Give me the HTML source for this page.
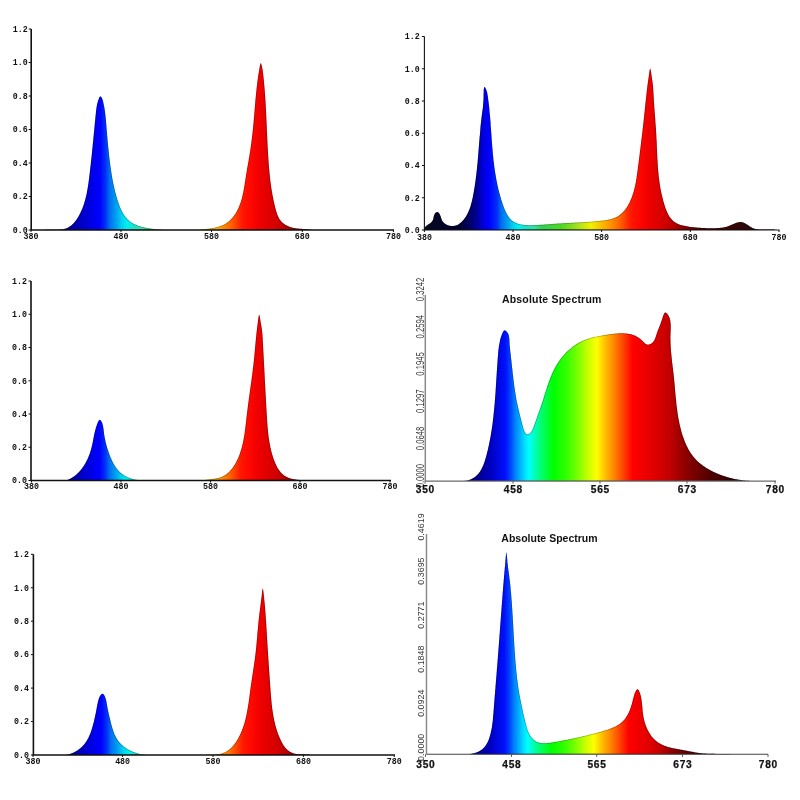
<!DOCTYPE html><html><head><meta charset="utf-8"><style>html,body{margin:0;padding:0;background:#fff;width:800px;height:800px;overflow:hidden}svg{display:block;will-change:transform;filter:blur(0.35px)}</style></head><body><svg width="800" height="800" viewBox="0 0 800 800"><defs><linearGradient id="g1" gradientUnits="userSpaceOnUse" x1="31.00" y1="0" x2="393.40" y2="0"><stop offset="0.0000" stop-color="#080828"/><stop offset="0.0625" stop-color="#000050"/><stop offset="0.1000" stop-color="#000090"/><stop offset="0.1425" stop-color="#0000c8"/><stop offset="0.1750" stop-color="#0000f0"/><stop offset="0.1900" stop-color="#0000ff"/><stop offset="0.2050" stop-color="#0030f8"/><stop offset="0.2175" stop-color="#0070f0"/><stop offset="0.2350" stop-color="#00a0f0"/><stop offset="0.2500" stop-color="#00d0f0"/><stop offset="0.2650" stop-color="#00f0f0"/><stop offset="0.2875" stop-color="#20e0c0"/><stop offset="0.3100" stop-color="#38e0a0"/><stop offset="0.3325" stop-color="#30d050"/><stop offset="0.3875" stop-color="#50d820"/><stop offset="0.4300" stop-color="#a0e020"/><stop offset="0.4700" stop-color="#f0f000"/><stop offset="0.5175" stop-color="#ffa000"/><stop offset="0.5525" stop-color="#ff6000"/><stop offset="0.5825" stop-color="#ff1800"/><stop offset="0.6050" stop-color="#ff0800"/><stop offset="0.6300" stop-color="#f00000"/><stop offset="0.6550" stop-color="#e00000"/><stop offset="0.6800" stop-color="#d00000"/><stop offset="0.7050" stop-color="#b40000"/><stop offset="0.7375" stop-color="#840000"/><stop offset="0.7750" stop-color="#560000"/><stop offset="0.9000" stop-color="#300808"/><stop offset="1.0000" stop-color="#200505"/></linearGradient><path id="p1" d="M45.00 230.00 L45.0 230.00 L45.4 229.91 L45.8 229.82 L46.2 229.74 L46.6 229.68 L47.0 229.65 L47.4 229.65 L47.8 229.65 L48.3 229.65 L48.7 229.65 L49.2 229.65 L49.6 229.65 L50.1 229.65 L50.6 229.65 L51.1 229.65 L51.6 229.65 L52.1 229.65 L52.6 229.65 L53.1 229.65 L53.6 229.65 L54.1 229.65 L54.6 229.65 L55.2 229.65 L55.7 229.65 L56.2 229.65 L56.7 229.65 L57.3 229.65 L57.8 229.65 L58.3 229.65 L58.8 229.64 L59.3 229.63 L59.8 229.61 L60.4 229.58 L60.9 229.54 L61.4 229.50 L61.9 229.44 L62.3 229.38 L62.8 229.30 L63.3 229.21 L63.8 229.11 L64.2 229.00 L64.7 228.87 L65.2 228.74 L65.6 228.59 L66.0 228.43 L66.5 228.27 L66.9 228.09 L67.3 227.90 L67.7 227.70 L68.1 227.49 L68.5 227.27 L68.9 227.04 L69.3 226.81 L69.7 226.56 L70.1 226.31 L70.4 226.04 L70.8 225.77 L71.2 225.49 L71.5 225.20 L71.8 224.91 L72.2 224.60 L72.5 224.29 L72.9 223.98 L73.2 223.65 L73.5 223.32 L73.8 222.99 L74.1 222.65 L74.4 222.30 L74.7 221.94 L75.0 221.58 L75.3 221.22 L75.6 220.85 L75.9 220.48 L76.2 220.10 L76.4 219.71 L76.7 219.33 L77.0 218.94 L77.2 218.54 L77.5 218.14 L77.7 217.74 L78.0 217.34 L78.2 216.93 L78.5 216.52 L78.7 216.11 L78.9 215.70 L79.1 215.28 L79.4 214.87 L79.6 214.45 L79.8 214.03 L80.0 213.61 L80.2 213.19 L80.4 212.76 L80.6 212.34 L80.8 211.91 L81.0 211.48 L81.2 211.05 L81.4 210.62 L81.6 210.19 L81.8 209.76 L82.0 209.33 L82.2 208.89 L82.3 208.46 L82.5 208.02 L82.7 207.58 L82.8 207.14 L83.0 206.70 L83.2 206.26 L83.3 205.82 L83.5 205.38 L83.6 204.93 L83.8 204.49 L83.9 204.04 L84.1 203.59 L84.2 203.15 L84.3 202.70 L84.5 202.25 L84.6 201.80 L84.7 201.35 L84.9 200.89 L85.0 200.44 L85.1 199.99 L85.3 199.53 L85.4 199.08 L85.5 198.62 L85.6 198.16 L85.7 197.71 L85.8 197.25 L85.9 196.79 L86.1 196.33 L86.2 195.87 L86.3 195.41 L86.4 194.95 L86.5 194.49 L86.6 194.02 L86.7 193.56 L86.8 193.10 L86.9 192.63 L86.9 192.17 L87.0 191.70 L87.1 191.24 L87.2 190.77 L87.3 190.31 L87.4 189.84 L87.5 189.37 L87.5 188.90 L87.6 188.44 L87.7 187.97 L87.8 187.50 L87.9 187.03 L87.9 186.56 L88.0 186.09 L88.1 185.62 L88.1 185.15 L88.2 184.68 L88.3 184.21 L88.4 183.74 L88.4 183.27 L88.5 182.80 L88.6 182.33 L88.6 181.86 L88.7 181.39 L88.7 180.92 L88.8 180.45 L88.9 179.98 L88.9 179.51 L89.0 179.03 L89.1 178.56 L89.1 178.09 L89.2 177.62 L89.2 177.15 L89.3 176.68 L89.3 176.21 L89.4 175.74 L89.5 175.27 L89.5 174.80 L89.6 174.33 L89.6 173.86 L89.7 173.39 L89.7 172.92 L89.8 172.45 L89.9 171.98 L89.9 171.51 L90.0 171.04 L90.0 170.57 L90.1 170.10 L90.1 169.64 L90.2 169.17 L90.2 168.70 L90.3 168.23 L90.3 167.76 L90.4 167.30 L90.4 166.83 L90.5 166.36 L90.6 165.89 L90.6 165.43 L90.7 164.96 L90.7 164.49 L90.8 164.02 L90.8 163.56 L90.9 163.09 L90.9 162.62 L91.0 162.16 L91.0 161.69 L91.1 161.22 L91.1 160.76 L91.2 160.29 L91.2 159.83 L91.3 159.36 L91.3 158.89 L91.4 158.43 L91.4 157.96 L91.5 157.50 L91.5 157.03 L91.6 156.56 L91.6 156.10 L91.7 155.63 L91.7 155.17 L91.8 154.70 L91.8 154.24 L91.9 153.77 L91.9 153.31 L92.0 152.84 L92.0 152.37 L92.1 151.91 L92.1 151.44 L92.1 150.98 L92.2 150.51 L92.2 150.05 L92.3 149.58 L92.3 149.12 L92.4 148.65 L92.4 148.19 L92.5 147.72 L92.5 147.26 L92.6 146.79 L92.6 146.33 L92.7 145.86 L92.7 145.39 L92.8 144.93 L92.8 144.46 L92.8 144.00 L92.9 143.53 L92.9 143.07 L93.0 142.60 L93.0 142.14 L93.1 141.67 L93.1 141.20 L93.2 140.74 L93.2 140.27 L93.3 139.81 L93.3 139.34 L93.4 138.87 L93.4 138.41 L93.4 137.94 L93.5 137.48 L93.5 137.01 L93.6 136.54 L93.6 136.08 L93.7 135.61 L93.7 135.14 L93.8 134.68 L93.8 134.21 L93.8 133.74 L93.9 133.27 L93.9 132.81 L94.0 132.34 L94.0 131.87 L94.1 131.40 L94.1 130.94 L94.2 130.47 L94.2 130.00 L94.3 129.53 L94.3 129.06 L94.3 128.60 L94.4 128.13 L94.4 127.66 L94.5 127.19 L94.5 126.72 L94.6 126.25 L94.6 125.78 L94.7 125.31 L94.7 124.84 L94.8 124.37 L94.8 123.90 L94.8 123.43 L94.9 122.96 L94.9 122.49 L95.0 122.02 L95.0 121.55 L95.1 121.08 L95.1 120.61 L95.2 120.14 L95.2 119.66 L95.3 119.19 L95.3 118.72 L95.3 118.25 L95.4 117.77 L95.4 117.30 L95.5 116.83 L95.5 116.35 L95.6 115.88 L95.6 115.41 L95.7 114.93 L95.7 114.46 L95.8 113.98 L95.8 113.51 L95.9 113.03 L95.9 112.56 L96.0 112.08 L96.0 111.61 L96.1 111.13 L96.1 110.66 L96.2 110.18 L96.2 109.71 L96.3 109.24 L96.4 108.76 L96.4 108.29 L96.5 107.82 L96.6 107.34 L96.6 106.87 L96.7 106.40 L96.8 105.93 L96.9 105.46 L97.0 104.99 L97.1 104.52 L97.2 104.05 L97.3 103.58 L97.4 103.12 L97.5 102.65 L97.7 102.19 L97.8 101.73 L97.9 101.26 L98.1 100.80 L98.2 100.34 L98.4 99.88 L98.6 99.43 L98.7 98.97 L98.9 98.52 L99.1 98.07 L99.3 97.63 L99.5 97.22 L99.7 96.87 L100.0 96.60 L100.2 96.43 L100.4 96.39 L100.7 96.46 L101.0 96.65 L101.2 96.92 L101.5 97.26 L101.7 97.65 L101.9 98.07 L102.1 98.50 L102.3 98.96 L102.5 99.43 L102.7 99.91 L102.8 100.40 L102.9 100.89 L103.1 101.39 L103.2 101.90 L103.3 102.40 L103.4 102.91 L103.5 103.41 L103.6 103.92 L103.7 104.41 L103.8 104.91 L103.9 105.41 L104.0 105.90 L104.1 106.39 L104.2 106.88 L104.3 107.37 L104.4 107.85 L104.5 108.34 L104.5 108.82 L104.6 109.30 L104.7 109.78 L104.8 110.26 L104.8 110.74 L104.9 111.21 L105.0 111.68 L105.0 112.16 L105.1 112.63 L105.1 113.10 L105.2 113.57 L105.3 114.04 L105.3 114.50 L105.4 114.97 L105.4 115.43 L105.5 115.90 L105.5 116.36 L105.6 116.82 L105.6 117.29 L105.7 117.75 L105.7 118.21 L105.8 118.67 L105.8 119.13 L105.8 119.59 L105.9 120.05 L105.9 120.51 L106.0 120.96 L106.0 121.42 L106.1 121.88 L106.1 122.34 L106.1 122.80 L106.2 123.26 L106.2 123.71 L106.2 124.17 L106.3 124.63 L106.3 125.09 L106.4 125.55 L106.4 126.01 L106.4 126.47 L106.5 126.93 L106.5 127.39 L106.5 127.85 L106.6 128.31 L106.6 128.77 L106.6 129.24 L106.7 129.70 L106.7 130.16 L106.8 130.63 L106.8 131.09 L106.8 131.56 L106.9 132.02 L106.9 132.49 L107.0 132.95 L107.0 133.42 L107.0 133.89 L107.1 134.35 L107.1 134.82 L107.1 135.29 L107.2 135.76 L107.2 136.22 L107.3 136.69 L107.3 137.16 L107.4 137.63 L107.4 138.10 L107.4 138.57 L107.5 139.04 L107.5 139.51 L107.6 139.98 L107.6 140.45 L107.6 140.92 L107.7 141.39 L107.7 141.86 L107.8 142.33 L107.8 142.80 L107.9 143.27 L107.9 143.74 L108.0 144.22 L108.0 144.69 L108.0 145.16 L108.1 145.63 L108.1 146.10 L108.2 146.58 L108.2 147.05 L108.3 147.52 L108.3 147.99 L108.4 148.47 L108.4 148.94 L108.5 149.41 L108.5 149.88 L108.6 150.36 L108.6 150.83 L108.7 151.30 L108.7 151.77 L108.8 152.25 L108.8 152.72 L108.9 153.19 L108.9 153.66 L109.0 154.13 L109.0 154.61 L109.1 155.08 L109.1 155.55 L109.2 156.02 L109.2 156.49 L109.3 156.97 L109.3 157.44 L109.4 157.91 L109.4 158.38 L109.5 158.85 L109.6 159.32 L109.6 159.79 L109.7 160.26 L109.7 160.73 L109.8 161.20 L109.8 161.67 L109.9 162.14 L110.0 162.61 L110.0 163.08 L110.1 163.55 L110.2 164.02 L110.2 164.49 L110.3 164.96 L110.3 165.42 L110.4 165.89 L110.5 166.36 L110.5 166.83 L110.6 167.29 L110.7 167.76 L110.7 168.23 L110.8 168.69 L110.9 169.16 L110.9 169.62 L111.0 170.09 L111.1 170.55 L111.1 171.01 L111.2 171.48 L111.3 171.94 L111.3 172.40 L111.4 172.86 L111.5 173.33 L111.6 173.79 L111.6 174.25 L111.7 174.71 L111.8 175.17 L111.9 175.63 L111.9 176.09 L112.0 176.55 L112.1 177.01 L112.2 177.47 L112.2 177.93 L112.3 178.39 L112.4 178.85 L112.5 179.30 L112.6 179.76 L112.7 180.22 L112.7 180.68 L112.8 181.13 L112.9 181.59 L113.0 182.05 L113.1 182.51 L113.2 182.96 L113.3 183.42 L113.4 183.88 L113.5 184.33 L113.6 184.79 L113.7 185.24 L113.8 185.70 L113.9 186.16 L114.0 186.61 L114.1 187.07 L114.2 187.52 L114.3 187.98 L114.4 188.43 L114.5 188.89 L114.6 189.34 L114.7 189.80 L114.8 190.26 L114.9 190.71 L115.0 191.17 L115.1 191.62 L115.3 192.08 L115.4 192.53 L115.5 192.99 L115.6 193.44 L115.7 193.90 L115.9 194.35 L116.0 194.81 L116.1 195.27 L116.2 195.72 L116.4 196.18 L116.5 196.63 L116.6 197.09 L116.8 197.55 L116.9 198.00 L117.0 198.46 L117.2 198.91 L117.3 199.37 L117.5 199.83 L117.6 200.29 L117.8 200.74 L117.9 201.20 L118.1 201.66 L118.2 202.11 L118.4 202.57 L118.5 203.03 L118.7 203.49 L118.8 203.94 L119.0 204.40 L119.2 204.85 L119.3 205.30 L119.5 205.76 L119.7 206.21 L119.9 206.66 L120.0 207.10 L120.2 207.55 L120.4 207.99 L120.6 208.43 L120.8 208.87 L121.0 209.31 L121.2 209.74 L121.4 210.18 L121.6 210.60 L121.8 211.03 L122.0 211.45 L122.3 211.87 L122.5 212.29 L122.7 212.70 L122.9 213.11 L123.2 213.51 L123.4 213.92 L123.7 214.31 L123.9 214.70 L124.2 215.09 L124.4 215.48 L124.7 215.86 L125.0 216.23 L125.2 216.60 L125.5 216.96 L125.8 217.32 L126.1 217.67 L126.4 218.02 L126.7 218.36 L127.0 218.70 L127.3 219.03 L127.6 219.35 L128.0 219.67 L128.3 219.98 L128.6 220.28 L129.0 220.58 L129.3 220.87 L129.7 221.15 L130.0 221.43 L130.4 221.70 L130.8 221.96 L131.1 222.22 L131.5 222.47 L131.9 222.72 L132.3 222.96 L132.7 223.19 L133.1 223.42 L133.5 223.64 L133.9 223.86 L134.4 224.07 L134.8 224.27 L135.2 224.47 L135.6 224.66 L136.1 224.85 L136.5 225.04 L136.9 225.22 L137.4 225.39 L137.8 225.56 L138.3 225.72 L138.7 225.88 L139.2 226.04 L139.7 226.19 L140.1 226.33 L140.6 226.47 L141.0 226.61 L141.5 226.74 L142.0 226.87 L142.5 227.00 L142.9 227.12 L143.4 227.24 L143.9 227.35 L144.4 227.46 L144.9 227.56 L145.3 227.67 L145.8 227.77 L146.3 227.86 L146.8 227.95 L147.3 228.04 L147.8 228.13 L148.3 228.21 L148.7 228.29 L149.2 228.37 L149.7 228.45 L150.2 228.52 L150.7 228.59 L151.2 228.66 L151.7 228.72 L152.2 228.79 L152.6 228.85 L153.1 228.91 L153.6 228.96 L154.1 229.02 L154.6 229.07 L155.0 229.12 L155.5 229.17 L156.0 229.22 L156.5 229.27 L156.9 229.31 L157.4 229.36 L157.9 229.40 L158.4 229.44 L158.8 229.48 L159.3 229.52 L159.7 229.56 L160.2 229.60 L160.6 229.64 L161.1 229.67 L161.5 229.71 L162.0 229.75 L162.4 229.78 L162.9 229.82 L163.3 229.85 L163.7 229.89 L164.1 229.92 L164.5 229.96 L165.0 230.00 L165.00 230.00 Z"/><clipPath id="c1"><use href="#p1"/></clipPath><path id="p2" d="M198.00 230.00 L198.0 230.00 L198.5 229.94 L199.1 229.86 L199.6 229.79 L200.1 229.71 L200.6 229.64 L201.2 229.57 L201.7 229.50 L202.3 229.44 L202.8 229.37 L203.3 229.30 L203.9 229.24 L204.5 229.17 L205.0 229.11 L205.6 229.04 L206.1 228.97 L206.7 228.90 L207.3 228.83 L207.8 228.76 L208.4 228.69 L209.0 228.61 L209.5 228.53 L210.1 228.45 L210.7 228.37 L211.2 228.28 L211.8 228.19 L212.4 228.09 L212.9 227.99 L213.5 227.89 L214.0 227.78 L214.6 227.67 L215.2 227.55 L215.7 227.43 L216.3 227.30 L216.8 227.16 L217.4 227.02 L217.9 226.87 L218.5 226.71 L219.0 226.55 L219.5 226.38 L220.1 226.20 L220.6 226.01 L221.1 225.82 L221.7 225.61 L222.2 225.40 L222.7 225.18 L223.2 224.95 L223.7 224.71 L224.2 224.46 L224.7 224.20 L225.1 223.93 L225.6 223.64 L226.1 223.35 L226.5 223.05 L227.0 222.73 L227.4 222.41 L227.9 222.08 L228.3 221.74 L228.7 221.39 L229.2 221.03 L229.6 220.66 L230.0 220.29 L230.4 219.90 L230.8 219.51 L231.2 219.11 L231.5 218.71 L231.9 218.30 L232.3 217.88 L232.6 217.46 L233.0 217.03 L233.3 216.60 L233.7 216.16 L234.0 215.71 L234.3 215.27 L234.6 214.81 L235.0 214.36 L235.3 213.90 L235.6 213.43 L235.9 212.97 L236.1 212.50 L236.4 212.02 L236.7 211.55 L237.0 211.07 L237.2 210.58 L237.5 210.10 L237.7 209.61 L238.0 209.12 L238.2 208.62 L238.4 208.12 L238.7 207.62 L238.9 207.12 L239.1 206.61 L239.3 206.10 L239.5 205.59 L239.7 205.08 L239.9 204.56 L240.1 204.04 L240.3 203.52 L240.5 203.00 L240.6 202.47 L240.8 201.95 L241.0 201.42 L241.1 200.89 L241.3 200.35 L241.5 199.82 L241.6 199.28 L241.8 198.74 L241.9 198.20 L242.0 197.66 L242.2 197.12 L242.3 196.57 L242.4 196.03 L242.6 195.48 L242.7 194.93 L242.8 194.38 L242.9 193.83 L243.1 193.28 L243.2 192.73 L243.3 192.18 L243.4 191.62 L243.5 191.07 L243.6 190.51 L243.7 189.95 L243.8 189.40 L243.9 188.84 L244.0 188.28 L244.1 187.72 L244.2 187.16 L244.3 186.60 L244.4 186.04 L244.5 185.48 L244.6 184.92 L244.7 184.36 L244.7 183.80 L244.8 183.24 L244.9 182.68 L245.0 182.12 L245.1 181.56 L245.2 181.01 L245.3 180.45 L245.4 179.89 L245.4 179.33 L245.5 178.77 L245.6 178.22 L245.7 177.66 L245.8 177.11 L245.9 176.55 L246.0 176.00 L246.0 175.45 L246.1 174.90 L246.2 174.35 L246.3 173.80 L246.4 173.25 L246.5 172.70 L246.6 172.15 L246.7 171.61 L246.8 171.06 L246.9 170.52 L247.0 169.97 L247.0 169.43 L247.1 168.88 L247.2 168.34 L247.3 167.80 L247.4 167.26 L247.5 166.71 L247.6 166.17 L247.7 165.63 L247.8 165.09 L247.9 164.55 L248.0 164.01 L248.1 163.47 L248.2 162.92 L248.3 162.38 L248.4 161.84 L248.5 161.30 L248.6 160.76 L248.7 160.22 L248.7 159.68 L248.8 159.13 L248.9 158.59 L249.0 158.05 L249.1 157.51 L249.2 156.96 L249.3 156.42 L249.4 155.88 L249.5 155.33 L249.6 154.79 L249.7 154.24 L249.7 153.69 L249.8 153.15 L249.9 152.60 L250.0 152.05 L250.1 151.50 L250.2 150.95 L250.3 150.40 L250.3 149.85 L250.4 149.29 L250.5 148.74 L250.6 148.19 L250.7 147.63 L250.7 147.08 L250.8 146.52 L250.9 145.96 L251.0 145.41 L251.1 144.85 L251.1 144.29 L251.2 143.73 L251.3 143.17 L251.4 142.61 L251.4 142.05 L251.5 141.49 L251.6 140.93 L251.6 140.37 L251.7 139.81 L251.8 139.25 L251.8 138.69 L251.9 138.12 L252.0 137.56 L252.0 137.00 L252.1 136.44 L252.2 135.88 L252.2 135.31 L252.3 134.75 L252.4 134.19 L252.4 133.63 L252.5 133.06 L252.6 132.50 L252.6 131.94 L252.7 131.38 L252.7 130.82 L252.8 130.26 L252.9 129.69 L252.9 129.13 L253.0 128.57 L253.0 128.01 L253.1 127.45 L253.1 126.89 L253.2 126.34 L253.2 125.78 L253.3 125.22 L253.4 124.66 L253.4 124.11 L253.5 123.55 L253.5 122.99 L253.6 122.44 L253.6 121.88 L253.7 121.33 L253.7 120.78 L253.8 120.23 L253.8 119.67 L253.9 119.12 L253.9 118.57 L254.0 118.02 L254.0 117.47 L254.1 116.92 L254.1 116.38 L254.1 115.83 L254.2 115.28 L254.2 114.73 L254.3 114.19 L254.3 113.64 L254.4 113.09 L254.4 112.55 L254.5 112.00 L254.5 111.46 L254.6 110.91 L254.6 110.37 L254.6 109.82 L254.7 109.28 L254.7 108.73 L254.8 108.19 L254.8 107.64 L254.9 107.10 L254.9 106.55 L255.0 106.01 L255.0 105.47 L255.1 104.92 L255.1 104.38 L255.2 103.83 L255.2 103.29 L255.2 102.74 L255.3 102.20 L255.3 101.65 L255.4 101.10 L255.4 100.56 L255.5 100.01 L255.5 99.46 L255.6 98.92 L255.6 98.37 L255.7 97.82 L255.7 97.27 L255.8 96.72 L255.8 96.17 L255.9 95.62 L255.9 95.07 L256.0 94.52 L256.1 93.97 L256.1 93.42 L256.2 92.87 L256.2 92.31 L256.3 91.76 L256.3 91.20 L256.4 90.65 L256.5 90.09 L256.5 89.53 L256.6 88.97 L256.6 88.42 L256.7 87.86 L256.8 87.29 L256.8 86.73 L256.9 86.17 L257.0 85.61 L257.0 85.04 L257.1 84.47 L257.2 83.91 L257.2 83.34 L257.3 82.77 L257.4 82.20 L257.4 81.63 L257.5 81.06 L257.6 80.48 L257.7 79.91 L257.8 79.33 L257.8 78.75 L257.9 78.17 L258.0 77.59 L258.1 77.01 L258.2 76.43 L258.2 75.84 L258.3 75.26 L258.4 74.67 L258.5 74.08 L258.6 73.49 L258.7 72.90 L258.8 72.30 L258.9 71.71 L259.0 71.11 L259.1 70.51 L259.2 69.91 L259.3 69.31 L259.4 68.70 L259.5 68.10 L259.6 67.49 L259.7 66.88 L259.8 66.27 L259.9 65.69 L260.0 65.13 L260.2 64.62 L260.3 64.18 L260.4 63.81 L260.5 63.52 L260.7 63.35 L260.8 63.29 L260.9 63.36 L261.1 63.54 L261.2 63.83 L261.3 64.21 L261.5 64.67 L261.6 65.18 L261.8 65.74 L261.9 66.34 L262.0 66.95 L262.1 67.56 L262.3 68.18 L262.4 68.79 L262.5 69.39 L262.6 69.99 L262.7 70.59 L262.8 71.19 L262.8 71.79 L262.9 72.38 L263.0 72.97 L263.1 73.56 L263.1 74.14 L263.2 74.73 L263.3 75.31 L263.3 75.89 L263.4 76.47 L263.5 77.05 L263.5 77.63 L263.6 78.20 L263.6 78.78 L263.7 79.35 L263.8 79.93 L263.8 80.50 L263.9 81.07 L263.9 81.64 L264.0 82.21 L264.0 82.77 L264.1 83.34 L264.1 83.91 L264.2 84.47 L264.2 85.03 L264.3 85.60 L264.3 86.16 L264.4 86.72 L264.4 87.28 L264.5 87.84 L264.5 88.40 L264.6 88.96 L264.6 89.52 L264.7 90.07 L264.7 90.63 L264.7 91.19 L264.8 91.74 L264.8 92.30 L264.9 92.85 L264.9 93.41 L265.0 93.96 L265.0 94.51 L265.0 95.07 L265.1 95.62 L265.1 96.17 L265.2 96.72 L265.2 97.27 L265.2 97.82 L265.3 98.37 L265.3 98.92 L265.3 99.47 L265.4 100.02 L265.4 100.57 L265.4 101.12 L265.5 101.67 L265.5 102.22 L265.5 102.77 L265.6 103.32 L265.6 103.87 L265.6 104.42 L265.7 104.97 L265.7 105.52 L265.7 106.07 L265.8 106.61 L265.8 107.16 L265.8 107.71 L265.8 108.26 L265.9 108.81 L265.9 109.36 L265.9 109.91 L266.0 110.46 L266.0 111.02 L266.0 111.57 L266.0 112.12 L266.1 112.67 L266.1 113.22 L266.1 113.78 L266.2 114.33 L266.2 114.88 L266.2 115.43 L266.2 115.99 L266.3 116.54 L266.3 117.10 L266.3 117.65 L266.3 118.20 L266.4 118.76 L266.4 119.31 L266.4 119.87 L266.4 120.42 L266.5 120.98 L266.5 121.54 L266.5 122.09 L266.5 122.65 L266.6 123.21 L266.6 123.76 L266.6 124.32 L266.6 124.88 L266.7 125.43 L266.7 125.99 L266.7 126.55 L266.7 127.11 L266.8 127.66 L266.8 128.22 L266.8 128.78 L266.8 129.34 L266.9 129.90 L266.9 130.45 L266.9 131.01 L266.9 131.57 L267.0 132.13 L267.0 132.69 L267.0 133.25 L267.0 133.81 L267.1 134.37 L267.1 134.93 L267.1 135.48 L267.1 136.04 L267.2 136.60 L267.2 137.16 L267.2 137.72 L267.2 138.28 L267.3 138.84 L267.3 139.40 L267.3 139.96 L267.3 140.52 L267.4 141.08 L267.4 141.64 L267.4 142.20 L267.4 142.76 L267.5 143.32 L267.5 143.88 L267.5 144.44 L267.6 145.00 L267.6 145.56 L267.6 146.12 L267.6 146.68 L267.7 147.24 L267.7 147.80 L267.7 148.35 L267.8 148.91 L267.8 149.47 L267.8 150.03 L267.9 150.59 L267.9 151.15 L267.9 151.71 L268.0 152.27 L268.0 152.83 L268.0 153.38 L268.1 153.94 L268.1 154.50 L268.1 155.06 L268.2 155.62 L268.2 156.18 L268.2 156.73 L268.3 157.29 L268.3 157.85 L268.3 158.41 L268.4 158.96 L268.4 159.52 L268.4 160.08 L268.5 160.63 L268.5 161.19 L268.6 161.75 L268.6 162.30 L268.6 162.86 L268.7 163.41 L268.7 163.97 L268.8 164.52 L268.8 165.08 L268.9 165.63 L268.9 166.19 L268.9 166.74 L269.0 167.30 L269.0 167.85 L269.1 168.40 L269.1 168.96 L269.2 169.51 L269.2 170.06 L269.3 170.62 L269.3 171.17 L269.4 171.72 L269.4 172.27 L269.5 172.83 L269.5 173.38 L269.6 173.93 L269.6 174.48 L269.7 175.03 L269.8 175.58 L269.8 176.13 L269.9 176.69 L269.9 177.24 L270.0 177.79 L270.1 178.34 L270.1 178.89 L270.2 179.44 L270.2 179.99 L270.3 180.54 L270.4 181.09 L270.4 181.64 L270.5 182.19 L270.6 182.74 L270.7 183.29 L270.7 183.84 L270.8 184.39 L270.9 184.94 L271.0 185.48 L271.0 186.03 L271.1 186.58 L271.2 187.13 L271.3 187.68 L271.4 188.23 L271.4 188.78 L271.5 189.33 L271.6 189.88 L271.7 190.42 L271.8 190.97 L271.9 191.52 L272.0 192.07 L272.1 192.62 L272.2 193.17 L272.3 193.72 L272.3 194.26 L272.4 194.81 L272.5 195.36 L272.7 195.91 L272.8 196.46 L272.9 197.01 L273.0 197.56 L273.1 198.10 L273.2 198.65 L273.3 199.20 L273.4 199.75 L273.5 200.30 L273.6 200.85 L273.8 201.40 L273.9 201.95 L274.0 202.50 L274.1 203.04 L274.3 203.59 L274.4 204.14 L274.5 204.69 L274.6 205.24 L274.8 205.79 L274.9 206.34 L275.1 206.89 L275.2 207.44 L275.3 207.99 L275.5 208.54 L275.6 209.09 L275.8 209.64 L275.9 210.19 L276.1 210.74 L276.2 211.28 L276.4 211.83 L276.6 212.37 L276.7 212.91 L276.9 213.45 L277.1 213.99 L277.3 214.52 L277.5 215.04 L277.7 215.56 L277.9 216.07 L278.1 216.58 L278.4 217.08 L278.6 217.57 L278.9 218.06 L279.1 218.53 L279.4 219.00 L279.7 219.46 L280.0 219.91 L280.4 220.35 L280.7 220.78 L281.1 221.19 L281.4 221.60 L281.8 221.99 L282.2 222.38 L282.6 222.75 L283.0 223.11 L283.5 223.46 L283.9 223.79 L284.4 224.12 L284.8 224.43 L285.3 224.73 L285.8 225.02 L286.3 225.30 L286.8 225.57 L287.3 225.82 L287.8 226.06 L288.3 226.29 L288.8 226.51 L289.4 226.71 L289.9 226.91 L290.4 227.09 L291.0 227.25 L291.5 227.41 L292.0 227.55 L292.6 227.69 L293.1 227.81 L293.7 227.93 L294.2 228.03 L294.8 228.13 L295.3 228.22 L295.9 228.30 L296.4 228.38 L297.0 228.45 L297.6 228.52 L298.1 228.58 L298.7 228.63 L299.3 228.68 L299.8 228.73 L300.4 228.77 L300.9 228.81 L301.5 228.86 L302.1 228.89 L302.6 228.93 L303.2 228.97 L303.8 229.01 L304.3 229.05 L304.9 229.09 L305.4 229.13 L306.0 229.18 L306.6 229.23 L307.1 229.28 L307.7 229.34 L308.2 229.40 L308.8 229.46 L309.3 229.53 L309.9 229.61 L310.4 229.70 L310.9 229.79 L311.5 229.89 L312.0 230.00 L312.00 230.00 Z"/><clipPath id="c2"><use href="#p2"/></clipPath><linearGradient id="g3" gradientUnits="userSpaceOnUse" x1="31.50" y1="0" x2="390.50" y2="0"><stop offset="0.0000" stop-color="#080828"/><stop offset="0.0625" stop-color="#000050"/><stop offset="0.1000" stop-color="#000090"/><stop offset="0.1425" stop-color="#0000c8"/><stop offset="0.1750" stop-color="#0000f0"/><stop offset="0.1900" stop-color="#0000ff"/><stop offset="0.2050" stop-color="#0030f8"/><stop offset="0.2175" stop-color="#0070f0"/><stop offset="0.2350" stop-color="#00a0f0"/><stop offset="0.2500" stop-color="#00d0f0"/><stop offset="0.2650" stop-color="#00f0f0"/><stop offset="0.2875" stop-color="#20e0c0"/><stop offset="0.3100" stop-color="#38e0a0"/><stop offset="0.3325" stop-color="#30d050"/><stop offset="0.3875" stop-color="#50d820"/><stop offset="0.4300" stop-color="#a0e020"/><stop offset="0.4700" stop-color="#f0f000"/><stop offset="0.5175" stop-color="#ffa000"/><stop offset="0.5525" stop-color="#ff6000"/><stop offset="0.5825" stop-color="#ff1800"/><stop offset="0.6050" stop-color="#ff0800"/><stop offset="0.6300" stop-color="#f00000"/><stop offset="0.6550" stop-color="#e00000"/><stop offset="0.6800" stop-color="#d00000"/><stop offset="0.7050" stop-color="#b40000"/><stop offset="0.7375" stop-color="#840000"/><stop offset="0.7750" stop-color="#560000"/><stop offset="0.9000" stop-color="#300808"/><stop offset="1.0000" stop-color="#200505"/></linearGradient><path id="p3" d="M50.00 480.50 L49.9 480.50 L50.2 480.50 L50.5 480.50 L50.8 480.50 L51.1 480.50 L51.4 480.50 L51.7 480.50 L52.0 480.50 L52.3 480.50 L52.5 480.50 L52.8 480.50 L53.1 480.50 L53.4 480.50 L53.7 480.50 L54.0 480.50 L54.3 480.50 L54.5 480.50 L54.8 480.50 L55.1 480.50 L55.4 480.50 L55.7 480.50 L55.9 480.50 L56.2 480.50 L56.5 480.50 L56.8 480.50 L57.0 480.50 L57.3 480.50 L57.6 480.50 L57.8 480.50 L58.1 480.50 L58.4 480.50 L58.6 480.50 L58.9 480.50 L59.2 480.50 L59.4 480.50 L59.7 480.50 L60.0 480.50 L60.2 480.50 L60.5 480.50 L60.7 480.50 L61.0 480.50 L61.3 480.50 L61.5 480.50 L61.8 480.50 L62.0 480.50 L62.3 480.50 L62.5 480.50 L62.8 480.50 L63.0 480.50 L63.3 480.50 L63.5 480.50 L63.8 480.50 L64.0 480.50 L64.3 480.50 L64.5 480.50 L64.7 480.50 L65.0 480.50 L65.2 480.50 L65.5 480.50 L65.7 480.50 L65.9 480.46 L66.2 480.39 L66.4 480.31 L66.7 480.23 L66.9 480.15 L67.1 480.07 L67.3 479.98 L67.6 479.90 L67.8 479.81 L68.0 479.72 L68.3 479.62 L68.5 479.53 L68.7 479.43 L68.9 479.33 L69.2 479.23 L69.4 479.13 L69.6 479.02 L69.8 478.92 L70.1 478.81 L70.3 478.70 L70.5 478.58 L70.7 478.47 L70.9 478.35 L71.1 478.23 L71.4 478.11 L71.6 477.99 L71.8 477.87 L72.0 477.74 L72.2 477.61 L72.4 477.48 L72.6 477.35 L72.8 477.22 L73.0 477.08 L73.2 476.95 L73.4 476.81 L73.6 476.67 L73.8 476.53 L74.0 476.38 L74.2 476.24 L74.4 476.09 L74.6 475.94 L74.8 475.79 L75.0 475.64 L75.2 475.49 L75.4 475.33 L75.6 475.18 L75.8 475.02 L76.0 474.86 L76.2 474.70 L76.4 474.54 L76.6 474.37 L76.7 474.21 L76.9 474.04 L77.1 473.87 L77.3 473.70 L77.5 473.53 L77.7 473.36 L77.8 473.18 L78.0 473.01 L78.2 472.83 L78.4 472.65 L78.5 472.47 L78.7 472.29 L78.9 472.11 L79.1 471.92 L79.2 471.74 L79.4 471.55 L79.6 471.36 L79.8 471.18 L79.9 470.98 L80.1 470.79 L80.3 470.60 L80.4 470.41 L80.6 470.21 L80.7 470.01 L80.9 469.82 L81.1 469.62 L81.2 469.42 L81.4 469.22 L81.5 469.01 L81.7 468.81 L81.9 468.61 L82.0 468.40 L82.2 468.19 L82.3 467.99 L82.5 467.78 L82.6 467.57 L82.8 467.36 L82.9 467.15 L83.1 466.93 L83.2 466.72 L83.4 466.50 L83.5 466.29 L83.6 466.07 L83.8 465.85 L83.9 465.64 L84.1 465.42 L84.2 465.20 L84.3 464.97 L84.5 464.75 L84.6 464.53 L84.8 464.31 L84.9 464.08 L85.0 463.86 L85.2 463.63 L85.3 463.40 L85.4 463.17 L85.5 462.95 L85.7 462.72 L85.8 462.49 L85.9 462.26 L86.0 462.02 L86.2 461.79 L86.3 461.56 L86.4 461.33 L86.5 461.09 L86.7 460.86 L86.8 460.62 L86.9 460.38 L87.0 460.15 L87.1 459.91 L87.2 459.67 L87.3 459.43 L87.5 459.20 L87.6 458.96 L87.7 458.72 L87.8 458.48 L87.9 458.23 L88.0 457.99 L88.1 457.75 L88.2 457.51 L88.3 457.27 L88.4 457.02 L88.5 456.78 L88.6 456.53 L88.7 456.29 L88.8 456.05 L88.9 455.80 L89.0 455.55 L89.1 455.31 L89.2 455.06 L89.3 454.82 L89.4 454.57 L89.5 454.32 L89.6 454.07 L89.7 453.83 L89.8 453.58 L89.8 453.33 L89.9 453.08 L90.0 452.83 L90.1 452.58 L90.2 452.34 L90.3 452.09 L90.3 451.84 L90.4 451.59 L90.5 451.34 L90.6 451.09 L90.6 450.84 L90.7 450.59 L90.8 450.34 L90.9 450.09 L90.9 449.84 L91.0 449.59 L91.1 449.34 L91.2 449.09 L91.2 448.84 L91.3 448.59 L91.4 448.34 L91.4 448.09 L91.5 447.84 L91.5 447.59 L91.6 447.34 L91.7 447.09 L91.7 446.84 L91.8 446.59 L91.9 446.34 L91.9 446.09 L92.0 445.84 L92.0 445.59 L92.1 445.34 L92.1 445.09 L92.2 444.84 L92.2 444.59 L92.3 444.34 L92.4 444.09 L92.4 443.84 L92.5 443.59 L92.5 443.34 L92.6 443.09 L92.6 442.84 L92.7 442.59 L92.7 442.33 L92.8 442.08 L92.8 441.83 L92.9 441.58 L92.9 441.33 L93.0 441.08 L93.0 440.83 L93.1 440.58 L93.1 440.33 L93.2 440.08 L93.2 439.83 L93.3 439.58 L93.3 439.33 L93.4 439.08 L93.4 438.83 L93.4 438.58 L93.5 438.33 L93.5 438.08 L93.6 437.83 L93.6 437.58 L93.7 437.33 L93.7 437.08 L93.8 436.83 L93.8 436.58 L93.9 436.32 L93.9 436.07 L94.0 435.82 L94.0 435.57 L94.1 435.32 L94.1 435.07 L94.2 434.82 L94.2 434.57 L94.3 434.32 L94.4 434.07 L94.4 433.82 L94.5 433.57 L94.5 433.32 L94.6 433.07 L94.6 432.82 L94.7 432.56 L94.7 432.31 L94.8 432.06 L94.9 431.81 L94.9 431.56 L95.0 431.31 L95.0 431.06 L95.1 430.81 L95.2 430.56 L95.2 430.31 L95.3 430.06 L95.4 429.80 L95.4 429.55 L95.5 429.30 L95.6 429.05 L95.6 428.80 L95.7 428.55 L95.8 428.30 L95.9 428.05 L95.9 427.80 L96.0 427.55 L96.1 427.29 L96.2 427.04 L96.3 426.79 L96.3 426.54 L96.4 426.29 L96.5 426.04 L96.6 425.79 L96.7 425.54 L96.8 425.28 L96.8 425.03 L96.9 424.78 L97.0 424.53 L97.1 424.28 L97.2 424.03 L97.3 423.78 L97.4 423.53 L97.5 423.27 L97.6 423.02 L97.7 422.77 L97.8 422.52 L97.9 422.27 L98.0 422.02 L98.2 421.77 L98.3 421.52 L98.4 421.28 L98.5 421.05 L98.6 420.84 L98.7 420.64 L98.9 420.45 L99.0 420.29 L99.1 420.14 L99.3 420.03 L99.4 419.94 L99.5 419.88 L99.7 419.85 L99.8 419.85 L100.0 419.89 L100.1 419.95 L100.2 420.04 L100.4 420.16 L100.5 420.29 L100.7 420.45 L100.8 420.62 L101.0 420.81 L101.1 421.01 L101.3 421.22 L101.4 421.44 L101.5 421.66 L101.6 421.89 L101.8 422.12 L101.9 422.36 L102.0 422.60 L102.1 422.85 L102.2 423.10 L102.3 423.35 L102.4 423.60 L102.5 423.86 L102.5 424.12 L102.6 424.38 L102.7 424.65 L102.8 424.92 L102.8 425.19 L102.9 425.46 L103.0 425.74 L103.0 426.02 L103.1 426.29 L103.1 426.57 L103.2 426.86 L103.2 427.14 L103.3 427.42 L103.3 427.71 L103.4 427.99 L103.4 428.28 L103.4 428.57 L103.5 428.85 L103.5 429.14 L103.6 429.43 L103.6 429.72 L103.6 430.00 L103.7 430.29 L103.7 430.58 L103.7 430.86 L103.8 431.15 L103.8 431.43 L103.8 431.71 L103.9 432.00 L103.9 432.28 L103.9 432.55 L104.0 432.83 L104.0 433.11 L104.0 433.38 L104.1 433.65 L104.1 433.92 L104.1 434.19 L104.2 434.46 L104.2 434.72 L104.3 434.99 L104.3 435.25 L104.3 435.51 L104.4 435.77 L104.4 436.03 L104.5 436.29 L104.5 436.54 L104.5 436.80 L104.6 437.05 L104.6 437.30 L104.7 437.56 L104.7 437.81 L104.8 438.06 L104.8 438.31 L104.9 438.55 L104.9 438.80 L105.0 439.05 L105.0 439.29 L105.1 439.54 L105.1 439.78 L105.2 440.03 L105.2 440.27 L105.3 440.51 L105.3 440.76 L105.4 441.00 L105.4 441.24 L105.5 441.48 L105.5 441.72 L105.6 441.96 L105.7 442.20 L105.7 442.44 L105.8 442.68 L105.8 442.92 L105.9 443.16 L106.0 443.40 L106.0 443.63 L106.1 443.87 L106.1 444.11 L106.2 444.35 L106.3 444.59 L106.3 444.83 L106.4 445.07 L106.5 445.31 L106.5 445.55 L106.6 445.79 L106.7 446.03 L106.7 446.27 L106.8 446.51 L106.9 446.74 L106.9 446.98 L107.0 447.22 L107.1 447.46 L107.2 447.70 L107.2 447.94 L107.3 448.18 L107.4 448.42 L107.5 448.66 L107.5 448.90 L107.6 449.15 L107.7 449.39 L107.8 449.63 L107.8 449.87 L107.9 450.11 L108.0 450.35 L108.1 450.59 L108.2 450.83 L108.2 451.07 L108.3 451.31 L108.4 451.56 L108.5 451.80 L108.6 452.04 L108.7 452.28 L108.7 452.52 L108.8 452.77 L108.9 453.01 L109.0 453.25 L109.1 453.50 L109.2 453.74 L109.3 453.98 L109.4 454.23 L109.5 454.47 L109.5 454.71 L109.6 454.96 L109.7 455.20 L109.8 455.45 L109.9 455.69 L110.0 455.93 L110.1 456.18 L110.2 456.42 L110.3 456.67 L110.4 456.91 L110.5 457.16 L110.6 457.40 L110.7 457.64 L110.8 457.89 L110.9 458.13 L111.0 458.38 L111.1 458.62 L111.2 458.86 L111.3 459.11 L111.4 459.35 L111.6 459.59 L111.7 459.83 L111.8 460.07 L111.9 460.32 L112.0 460.56 L112.1 460.80 L112.2 461.04 L112.3 461.27 L112.5 461.51 L112.6 461.75 L112.7 461.99 L112.8 462.22 L112.9 462.46 L113.1 462.70 L113.2 462.93 L113.3 463.16 L113.4 463.40 L113.5 463.63 L113.7 463.86 L113.8 464.09 L113.9 464.32 L114.1 464.55 L114.2 464.77 L114.3 465.00 L114.5 465.23 L114.6 465.45 L114.7 465.67 L114.9 465.90 L115.0 466.12 L115.2 466.34 L115.3 466.55 L115.4 466.77 L115.6 466.99 L115.7 467.20 L115.9 467.42 L116.0 467.63 L116.2 467.84 L116.3 468.05 L116.5 468.26 L116.6 468.46 L116.8 468.67 L117.0 468.87 L117.1 469.07 L117.3 469.27 L117.4 469.47 L117.6 469.67 L117.8 469.86 L117.9 470.06 L118.1 470.25 L118.3 470.44 L118.4 470.63 L118.6 470.81 L118.8 471.00 L119.0 471.18 L119.1 471.36 L119.3 471.54 L119.5 471.72 L119.7 471.89 L119.9 472.07 L120.0 472.24 L120.2 472.41 L120.4 472.57 L120.6 472.74 L120.8 472.90 L121.0 473.06 L121.2 473.22 L121.4 473.38 L121.6 473.54 L121.8 473.69 L122.0 473.84 L122.2 473.99 L122.4 474.14 L122.6 474.28 L122.8 474.43 L123.0 474.57 L123.2 474.71 L123.4 474.85 L123.6 474.98 L123.9 475.12 L124.1 475.25 L124.3 475.38 L124.5 475.51 L124.7 475.64 L124.9 475.76 L125.2 475.89 L125.4 476.01 L125.6 476.13 L125.8 476.25 L126.1 476.36 L126.3 476.48 L126.5 476.59 L126.7 476.70 L127.0 476.81 L127.2 476.92 L127.4 477.03 L127.7 477.13 L127.9 477.23 L128.1 477.33 L128.4 477.43 L128.6 477.53 L128.9 477.63 L129.1 477.72 L129.3 477.81 L129.6 477.91 L129.8 477.99 L130.1 478.08 L130.3 478.17 L130.5 478.25 L130.8 478.34 L131.0 478.42 L131.3 478.50 L131.5 478.58 L131.8 478.65 L132.0 478.73 L132.3 478.80 L132.5 478.87 L132.8 478.94 L133.0 479.01 L133.3 479.08 L133.5 479.15 L133.8 479.21 L134.0 479.27 L134.3 479.33 L134.5 479.39 L134.8 479.45 L135.0 479.51 L135.3 479.57 L135.5 479.62 L135.8 479.67 L136.1 479.72 L136.3 479.77 L136.6 479.82 L136.8 479.87 L137.1 479.91 L137.3 479.96 L137.6 480.00 L137.9 480.04 L138.1 480.08 L138.4 480.12 L138.6 480.16 L138.9 480.20 L139.2 480.23 L139.4 480.26 L139.7 480.30 L139.9 480.33 L140.2 480.36 L140.5 480.38 L140.7 480.41 L141.0 480.44 L141.2 480.46 L141.5 480.49 L141.8 480.50 L142.0 480.50 L142.3 480.50 L142.5 480.50 L142.8 480.50 L143.1 480.50 L143.3 480.50 L143.6 480.50 L143.9 480.50 L144.1 480.50 L144.4 480.50 L144.6 480.50 L144.9 480.50 L145.1 480.50 L145.4 480.50 L145.7 480.50 L145.9 480.50 L146.2 480.50 L146.4 480.50 L146.7 480.50 L147.0 480.50 L147.2 480.50 L147.5 480.50 L147.7 480.50 L148.0 480.50 L148.2 480.50 L148.5 480.50 L148.7 480.50 L149.0 480.50 L149.2 480.50 L149.5 480.50 L149.8 480.50 L150.0 480.50 L150.3 480.50 L150.5 480.50 L150.8 480.50 L151.0 480.50 L151.3 480.50 L151.5 480.50 L151.7 480.50 L152.0 480.50 L152.00 480.50 Z"/><clipPath id="c3"><use href="#p3"/></clipPath><path id="p4" d="M203.00 480.50 L203.0 480.50 L203.5 480.39 L203.9 480.26 L204.4 480.14 L204.9 480.03 L205.4 479.93 L205.9 479.83 L206.4 479.74 L206.9 479.65 L207.5 479.57 L208.0 479.50 L208.6 479.42 L209.1 479.35 L209.7 479.29 L210.2 479.22 L210.8 479.15 L211.4 479.08 L212.0 479.01 L212.5 478.94 L213.1 478.87 L213.7 478.79 L214.3 478.71 L214.9 478.63 L215.4 478.53 L216.0 478.44 L216.6 478.33 L217.2 478.22 L217.7 478.10 L218.3 477.97 L218.8 477.83 L219.4 477.68 L219.9 477.52 L220.5 477.35 L221.0 477.16 L221.5 476.96 L222.0 476.75 L222.5 476.53 L223.0 476.29 L223.5 476.05 L224.0 475.79 L224.4 475.52 L224.9 475.24 L225.3 474.95 L225.8 474.65 L226.2 474.34 L226.7 474.02 L227.1 473.69 L227.5 473.36 L227.9 473.01 L228.3 472.66 L228.7 472.29 L229.1 471.92 L229.5 471.54 L229.8 471.16 L230.2 470.76 L230.6 470.36 L230.9 469.96 L231.3 469.54 L231.6 469.12 L232.0 468.70 L232.3 468.27 L232.6 467.83 L232.9 467.39 L233.2 466.94 L233.5 466.49 L233.8 466.04 L234.1 465.58 L234.4 465.12 L234.7 464.65 L235.0 464.18 L235.3 463.71 L235.5 463.24 L235.8 462.76 L236.1 462.28 L236.3 461.80 L236.6 461.32 L236.8 460.83 L237.1 460.35 L237.3 459.86 L237.5 459.37 L237.7 458.88 L238.0 458.38 L238.2 457.89 L238.4 457.39 L238.6 456.89 L238.8 456.39 L239.0 455.89 L239.2 455.39 L239.4 454.89 L239.6 454.38 L239.8 453.87 L240.0 453.37 L240.1 452.86 L240.3 452.34 L240.5 451.83 L240.6 451.32 L240.8 450.80 L241.0 450.29 L241.1 449.77 L241.3 449.25 L241.4 448.73 L241.6 448.21 L241.7 447.68 L241.9 447.16 L242.0 446.64 L242.1 446.11 L242.3 445.58 L242.4 445.05 L242.5 444.53 L242.6 444.00 L242.8 443.47 L242.9 442.93 L243.0 442.40 L243.1 441.87 L243.2 441.33 L243.3 440.80 L243.4 440.26 L243.5 439.72 L243.6 439.19 L243.7 438.65 L243.8 438.11 L243.9 437.57 L244.0 437.03 L244.1 436.49 L244.2 435.95 L244.3 435.40 L244.4 434.86 L244.5 434.32 L244.5 433.77 L244.6 433.23 L244.7 432.68 L244.8 432.14 L244.8 431.59 L244.9 431.05 L245.0 430.50 L245.1 429.95 L245.1 429.41 L245.2 428.86 L245.3 428.31 L245.3 427.76 L245.4 427.22 L245.5 426.67 L245.5 426.12 L245.6 425.57 L245.7 425.02 L245.7 424.47 L245.8 423.92 L245.9 423.38 L245.9 422.83 L246.0 422.28 L246.1 421.73 L246.1 421.18 L246.2 420.63 L246.2 420.08 L246.3 419.54 L246.4 418.99 L246.4 418.44 L246.5 417.89 L246.5 417.34 L246.6 416.80 L246.7 416.25 L246.7 415.70 L246.8 415.16 L246.9 414.61 L246.9 414.06 L247.0 413.52 L247.1 412.97 L247.1 412.43 L247.2 411.88 L247.3 411.34 L247.3 410.80 L247.4 410.25 L247.5 409.71 L247.5 409.17 L247.6 408.63 L247.7 408.08 L247.7 407.54 L247.8 407.00 L247.9 406.46 L247.9 405.92 L248.0 405.38 L248.1 404.84 L248.1 404.30 L248.2 403.76 L248.3 403.22 L248.4 402.68 L248.4 402.14 L248.5 401.60 L248.6 401.06 L248.7 400.52 L248.7 399.98 L248.8 399.44 L248.9 398.90 L248.9 398.36 L249.0 397.83 L249.1 397.29 L249.2 396.75 L249.2 396.21 L249.3 395.67 L249.4 395.14 L249.5 394.60 L249.5 394.06 L249.6 393.52 L249.7 392.99 L249.8 392.45 L249.8 391.91 L249.9 391.37 L250.0 390.84 L250.1 390.30 L250.1 389.76 L250.2 389.23 L250.3 388.69 L250.4 388.15 L250.4 387.61 L250.5 387.08 L250.6 386.54 L250.7 386.00 L250.7 385.47 L250.8 384.93 L250.9 384.39 L251.0 383.85 L251.0 383.32 L251.1 382.78 L251.2 382.24 L251.3 381.70 L251.3 381.17 L251.4 380.63 L251.5 380.09 L251.6 379.55 L251.6 379.01 L251.7 378.48 L251.8 377.94 L251.8 377.40 L251.9 376.86 L252.0 376.32 L252.1 375.78 L252.1 375.24 L252.2 374.70 L252.3 374.16 L252.3 373.62 L252.4 373.08 L252.5 372.54 L252.5 372.00 L252.6 371.46 L252.7 370.92 L252.7 370.38 L252.8 369.84 L252.9 369.30 L252.9 368.75 L253.0 368.21 L253.1 367.67 L253.1 367.13 L253.2 366.58 L253.3 366.04 L253.3 365.49 L253.4 364.95 L253.5 364.41 L253.5 363.86 L253.6 363.32 L253.6 362.77 L253.7 362.22 L253.8 361.68 L253.8 361.13 L253.9 360.58 L253.9 360.04 L254.0 359.49 L254.0 358.94 L254.1 358.39 L254.2 357.84 L254.2 357.29 L254.3 356.75 L254.3 356.20 L254.4 355.65 L254.4 355.10 L254.5 354.55 L254.5 354.00 L254.6 353.45 L254.6 352.90 L254.7 352.34 L254.7 351.79 L254.8 351.24 L254.8 350.69 L254.9 350.14 L254.9 349.59 L255.0 349.04 L255.0 348.50 L255.1 347.95 L255.1 347.40 L255.2 346.85 L255.2 346.30 L255.3 345.75 L255.3 345.20 L255.4 344.66 L255.4 344.11 L255.5 343.56 L255.5 343.02 L255.6 342.47 L255.6 341.93 L255.7 341.39 L255.7 340.84 L255.8 340.30 L255.8 339.76 L255.9 339.22 L255.9 338.68 L256.0 338.14 L256.0 337.60 L256.1 337.06 L256.2 336.52 L256.2 335.99 L256.3 335.45 L256.3 334.92 L256.4 334.38 L256.4 333.85 L256.5 333.32 L256.5 332.79 L256.6 332.26 L256.7 331.73 L256.7 331.21 L256.8 330.68 L256.8 330.16 L256.9 329.63 L257.0 329.11 L257.0 328.59 L257.1 328.07 L257.1 327.55 L257.2 327.04 L257.3 326.52 L257.3 326.00 L257.4 325.47 L257.5 324.94 L257.6 324.40 L257.6 323.84 L257.7 323.28 L257.8 322.70 L257.9 322.10 L257.9 321.48 L258.0 320.84 L258.1 320.18 L258.2 319.49 L258.3 318.79 L258.4 318.08 L258.5 317.39 L258.6 316.74 L258.7 316.14 L258.8 315.62 L258.9 315.20 L259.0 314.89 L259.1 314.71 L259.2 314.68 L259.3 314.81 L259.4 315.08 L259.5 315.47 L259.6 315.96 L259.8 316.53 L259.9 317.17 L260.0 317.85 L260.1 318.55 L260.2 319.26 L260.3 319.95 L260.4 320.62 L260.5 321.25 L260.6 321.87 L260.7 322.46 L260.8 323.03 L260.9 323.59 L261.0 324.13 L261.1 324.66 L261.2 325.17 L261.3 325.68 L261.4 326.19 L261.5 326.69 L261.5 327.19 L261.6 327.70 L261.7 328.20 L261.8 328.71 L261.8 329.23 L261.9 329.75 L262.0 330.27 L262.0 330.79 L262.1 331.32 L262.1 331.85 L262.2 332.38 L262.2 332.91 L262.3 333.45 L262.3 333.99 L262.4 334.53 L262.4 335.07 L262.5 335.62 L262.5 336.17 L262.5 336.71 L262.6 337.26 L262.6 337.81 L262.7 338.37 L262.7 338.92 L262.7 339.47 L262.8 340.03 L262.8 340.58 L262.8 341.14 L262.8 341.69 L262.9 342.25 L262.9 342.80 L262.9 343.36 L263.0 343.91 L263.0 344.47 L263.0 345.02 L263.0 345.58 L263.1 346.13 L263.1 346.68 L263.1 347.24 L263.2 347.79 L263.2 348.34 L263.2 348.89 L263.3 349.44 L263.3 349.99 L263.3 350.54 L263.3 351.09 L263.4 351.64 L263.4 352.19 L263.4 352.74 L263.5 353.28 L263.5 353.83 L263.5 354.38 L263.5 354.93 L263.6 355.47 L263.6 356.02 L263.6 356.57 L263.7 357.11 L263.7 357.66 L263.7 358.20 L263.7 358.75 L263.8 359.30 L263.8 359.84 L263.8 360.39 L263.9 360.93 L263.9 361.48 L263.9 362.02 L263.9 362.57 L264.0 363.11 L264.0 363.66 L264.0 364.20 L264.1 364.75 L264.1 365.29 L264.1 365.84 L264.1 366.38 L264.2 366.92 L264.2 367.47 L264.2 368.01 L264.3 368.56 L264.3 369.10 L264.3 369.64 L264.3 370.19 L264.4 370.73 L264.4 371.28 L264.4 371.82 L264.5 372.36 L264.5 372.91 L264.5 373.45 L264.5 373.99 L264.6 374.54 L264.6 375.08 L264.6 375.62 L264.6 376.17 L264.7 376.71 L264.7 377.25 L264.7 377.80 L264.8 378.34 L264.8 378.88 L264.8 379.43 L264.8 379.97 L264.9 380.51 L264.9 381.06 L264.9 381.60 L265.0 382.14 L265.0 382.69 L265.0 383.23 L265.0 383.77 L265.1 384.32 L265.1 384.86 L265.1 385.40 L265.2 385.95 L265.2 386.49 L265.2 387.03 L265.2 387.57 L265.3 388.12 L265.3 388.66 L265.3 389.20 L265.4 389.75 L265.4 390.29 L265.4 390.83 L265.4 391.38 L265.5 391.92 L265.5 392.47 L265.5 393.01 L265.6 393.55 L265.6 394.10 L265.6 394.64 L265.6 395.18 L265.7 395.73 L265.7 396.27 L265.7 396.82 L265.8 397.36 L265.8 397.90 L265.8 398.45 L265.9 398.99 L265.9 399.54 L265.9 400.08 L265.9 400.62 L266.0 401.17 L266.0 401.71 L266.0 402.26 L266.1 402.80 L266.1 403.35 L266.1 403.89 L266.2 404.44 L266.2 404.98 L266.2 405.53 L266.2 406.07 L266.3 406.62 L266.3 407.17 L266.3 407.71 L266.4 408.26 L266.4 408.80 L266.4 409.35 L266.5 409.90 L266.5 410.44 L266.5 410.99 L266.6 411.53 L266.6 412.08 L266.6 412.63 L266.7 413.18 L266.7 413.72 L266.7 414.27 L266.8 414.82 L266.8 415.36 L266.8 415.91 L266.9 416.46 L266.9 417.01 L266.9 417.56 L267.0 418.10 L267.0 418.65 L267.0 419.20 L267.1 419.75 L267.1 420.30 L267.1 420.85 L267.2 421.39 L267.2 421.94 L267.2 422.49 L267.3 423.04 L267.3 423.59 L267.4 424.14 L267.4 424.68 L267.4 425.23 L267.5 425.78 L267.5 426.33 L267.6 426.88 L267.6 427.42 L267.7 427.97 L267.7 428.52 L267.8 429.06 L267.8 429.61 L267.9 430.16 L267.9 430.70 L268.0 431.25 L268.0 431.80 L268.1 432.34 L268.1 432.89 L268.2 433.43 L268.3 433.98 L268.3 434.52 L268.4 435.07 L268.5 435.61 L268.5 436.15 L268.6 436.70 L268.7 437.24 L268.7 437.78 L268.8 438.32 L268.9 438.86 L269.0 439.41 L269.1 439.95 L269.1 440.49 L269.2 441.03 L269.3 441.56 L269.4 442.10 L269.5 442.64 L269.6 443.18 L269.7 443.72 L269.8 444.25 L269.9 444.79 L270.0 445.32 L270.1 445.86 L270.2 446.39 L270.3 446.93 L270.4 447.46 L270.5 447.99 L270.7 448.52 L270.8 449.05 L270.9 449.58 L271.0 450.11 L271.2 450.64 L271.3 451.17 L271.4 451.70 L271.6 452.22 L271.7 452.75 L271.8 453.27 L272.0 453.80 L272.1 454.32 L272.3 454.84 L272.5 455.37 L272.6 455.89 L272.8 456.41 L272.9 456.93 L273.1 457.44 L273.3 457.96 L273.5 458.48 L273.6 458.99 L273.8 459.51 L274.0 460.02 L274.2 460.53 L274.4 461.05 L274.6 461.56 L274.8 462.06 L275.0 462.57 L275.2 463.08 L275.4 463.58 L275.6 464.08 L275.9 464.57 L276.1 465.07 L276.3 465.55 L276.6 466.04 L276.8 466.52 L277.1 467.00 L277.3 467.47 L277.6 467.93 L277.9 468.40 L278.2 468.85 L278.5 469.30 L278.7 469.74 L279.0 470.18 L279.4 470.61 L279.7 471.03 L280.0 471.45 L280.3 471.85 L280.7 472.25 L281.0 472.64 L281.4 473.03 L281.7 473.40 L282.1 473.77 L282.5 474.12 L282.9 474.47 L283.3 474.80 L283.7 475.13 L284.2 475.44 L284.6 475.75 L285.0 476.04 L285.5 476.32 L286.0 476.59 L286.4 476.85 L286.9 477.09 L287.4 477.32 L287.9 477.54 L288.5 477.75 L289.0 477.95 L289.5 478.14 L290.1 478.31 L290.6 478.48 L291.2 478.63 L291.8 478.78 L292.4 478.91 L292.9 479.04 L293.5 479.16 L294.1 479.27 L294.7 479.37 L295.3 479.47 L295.9 479.55 L296.5 479.63 L297.1 479.71 L297.7 479.78 L298.3 479.84 L298.9 479.90 L299.5 479.95 L300.1 480.00 L300.7 480.04 L301.2 480.08 L301.8 480.12 L302.4 480.15 L303.0 480.18 L303.5 480.21 L304.1 480.23 L304.6 480.26 L305.2 480.28 L305.7 480.30 L306.2 480.32 L306.7 480.34 L307.2 480.37 L307.7 480.39 L308.2 480.41 L308.7 480.43 L309.1 480.46 L309.6 480.48 L310.0 480.50 L310.00 480.50 Z"/><clipPath id="c4"><use href="#p4"/></clipPath><linearGradient id="g5" gradientUnits="userSpaceOnUse" x1="32.50" y1="0" x2="394.10" y2="0"><stop offset="0.0000" stop-color="#080828"/><stop offset="0.0625" stop-color="#000050"/><stop offset="0.1000" stop-color="#000090"/><stop offset="0.1425" stop-color="#0000c8"/><stop offset="0.1750" stop-color="#0000f0"/><stop offset="0.1900" stop-color="#0000ff"/><stop offset="0.2050" stop-color="#0030f8"/><stop offset="0.2175" stop-color="#0070f0"/><stop offset="0.2350" stop-color="#00a0f0"/><stop offset="0.2500" stop-color="#00d0f0"/><stop offset="0.2650" stop-color="#00f0f0"/><stop offset="0.2875" stop-color="#20e0c0"/><stop offset="0.3100" stop-color="#38e0a0"/><stop offset="0.3325" stop-color="#30d050"/><stop offset="0.3875" stop-color="#50d820"/><stop offset="0.4300" stop-color="#a0e020"/><stop offset="0.4700" stop-color="#f0f000"/><stop offset="0.5175" stop-color="#ffa000"/><stop offset="0.5525" stop-color="#ff6000"/><stop offset="0.5825" stop-color="#ff1800"/><stop offset="0.6050" stop-color="#ff0800"/><stop offset="0.6300" stop-color="#f00000"/><stop offset="0.6550" stop-color="#e00000"/><stop offset="0.6800" stop-color="#d00000"/><stop offset="0.7050" stop-color="#b40000"/><stop offset="0.7375" stop-color="#840000"/><stop offset="0.7750" stop-color="#560000"/><stop offset="0.9000" stop-color="#300808"/><stop offset="1.0000" stop-color="#200505"/></linearGradient><path id="p5" d="M55.00 755.00 L55.0 755.00 L55.3 755.00 L55.5 755.00 L55.8 755.00 L56.0 755.00 L56.3 755.00 L56.6 755.00 L56.8 755.00 L57.1 755.00 L57.3 755.00 L57.6 755.00 L57.9 755.00 L58.1 755.00 L58.4 755.00 L58.7 755.00 L58.9 755.00 L59.2 755.00 L59.4 755.00 L59.7 755.00 L60.0 755.00 L60.2 755.00 L60.5 755.00 L60.7 755.00 L61.0 755.00 L61.3 755.00 L61.5 755.00 L61.8 755.00 L62.0 755.00 L62.3 755.00 L62.5 755.00 L62.8 755.00 L63.1 755.00 L63.3 755.00 L63.6 755.00 L63.8 755.00 L64.1 755.00 L64.3 755.00 L64.6 755.00 L64.8 755.00 L65.1 755.00 L65.4 755.00 L65.6 755.00 L65.9 755.00 L66.1 754.96 L66.4 754.92 L66.6 754.86 L66.9 754.81 L67.1 754.76 L67.4 754.70 L67.6 754.64 L67.9 754.58 L68.1 754.52 L68.4 754.45 L68.6 754.38 L68.9 754.31 L69.1 754.24 L69.3 754.17 L69.6 754.09 L69.8 754.02 L70.1 753.94 L70.3 753.86 L70.6 753.77 L70.8 753.69 L71.0 753.60 L71.3 753.51 L71.5 753.42 L71.7 753.33 L72.0 753.23 L72.2 753.14 L72.5 753.04 L72.7 752.94 L72.9 752.84 L73.2 752.73 L73.4 752.63 L73.6 752.52 L73.8 752.41 L74.1 752.30 L74.3 752.18 L74.5 752.07 L74.7 751.95 L75.0 751.83 L75.2 751.71 L75.4 751.59 L75.6 751.47 L75.9 751.34 L76.1 751.21 L76.3 751.08 L76.5 750.95 L76.7 750.82 L76.9 750.69 L77.2 750.55 L77.4 750.41 L77.6 750.27 L77.8 750.13 L78.0 749.99 L78.2 749.84 L78.4 749.70 L78.6 749.55 L78.8 749.40 L79.0 749.25 L79.2 749.09 L79.4 748.94 L79.6 748.78 L79.8 748.62 L80.0 748.46 L80.2 748.30 L80.4 748.14 L80.6 747.97 L80.8 747.81 L81.0 747.64 L81.2 747.47 L81.4 747.30 L81.6 747.13 L81.7 746.95 L81.9 746.78 L82.1 746.60 L82.3 746.42 L82.5 746.24 L82.6 746.06 L82.8 745.88 L83.0 745.70 L83.2 745.51 L83.3 745.32 L83.5 745.13 L83.7 744.94 L83.8 744.75 L84.0 744.56 L84.2 744.36 L84.3 744.17 L84.5 743.97 L84.6 743.77 L84.8 743.57 L85.0 743.37 L85.1 743.17 L85.3 742.96 L85.4 742.75 L85.6 742.55 L85.7 742.34 L85.8 742.13 L86.0 741.92 L86.1 741.71 L86.3 741.49 L86.4 741.28 L86.5 741.06 L86.7 740.85 L86.8 740.63 L86.9 740.41 L87.1 740.19 L87.2 739.97 L87.3 739.75 L87.5 739.52 L87.6 739.30 L87.7 739.07 L87.8 738.85 L88.0 738.62 L88.1 738.39 L88.2 738.16 L88.3 737.93 L88.4 737.70 L88.5 737.47 L88.7 737.24 L88.8 737.01 L88.9 736.77 L89.0 736.54 L89.1 736.30 L89.2 736.07 L89.3 735.83 L89.4 735.59 L89.5 735.35 L89.6 735.11 L89.7 734.88 L89.8 734.64 L89.9 734.40 L90.0 734.15 L90.1 733.91 L90.2 733.67 L90.3 733.43 L90.4 733.19 L90.5 732.94 L90.6 732.70 L90.7 732.46 L90.8 732.21 L90.9 731.97 L90.9 731.72 L91.0 731.48 L91.1 731.23 L91.2 730.98 L91.3 730.74 L91.4 730.49 L91.4 730.24 L91.5 730.00 L91.6 729.75 L91.7 729.50 L91.8 729.26 L91.8 729.01 L91.9 728.76 L92.0 728.51 L92.1 728.27 L92.1 728.02 L92.2 727.77 L92.3 727.52 L92.4 727.28 L92.4 727.03 L92.5 726.78 L92.6 726.54 L92.6 726.29 L92.7 726.04 L92.8 725.79 L92.8 725.55 L92.9 725.30 L93.0 725.06 L93.0 724.81 L93.1 724.56 L93.2 724.32 L93.2 724.07 L93.3 723.83 L93.4 723.59 L93.4 723.34 L93.5 723.10 L93.6 722.85 L93.6 722.61 L93.7 722.37 L93.7 722.13 L93.8 721.88 L93.9 721.64 L93.9 721.40 L94.0 721.16 L94.0 720.91 L94.1 720.67 L94.1 720.43 L94.2 720.19 L94.3 719.95 L94.3 719.71 L94.4 719.47 L94.4 719.22 L94.5 718.98 L94.5 718.74 L94.6 718.50 L94.6 718.26 L94.7 718.02 L94.7 717.77 L94.8 717.53 L94.9 717.29 L94.9 717.05 L95.0 716.81 L95.0 716.57 L95.1 716.32 L95.1 716.08 L95.2 715.84 L95.2 715.59 L95.3 715.35 L95.3 715.11 L95.4 714.86 L95.4 714.62 L95.5 714.38 L95.5 714.13 L95.6 713.89 L95.6 713.64 L95.7 713.40 L95.7 713.15 L95.8 712.91 L95.8 712.66 L95.9 712.41 L95.9 712.17 L96.0 711.92 L96.0 711.67 L96.1 711.42 L96.1 711.17 L96.2 710.92 L96.2 710.67 L96.2 710.42 L96.3 710.17 L96.3 709.92 L96.4 709.67 L96.4 709.41 L96.5 709.16 L96.5 708.91 L96.6 708.65 L96.6 708.40 L96.7 708.14 L96.7 707.89 L96.8 707.63 L96.8 707.37 L96.9 707.11 L96.9 706.85 L97.0 706.59 L97.0 706.33 L97.1 706.07 L97.1 705.81 L97.2 705.54 L97.2 705.28 L97.3 705.02 L97.3 704.75 L97.4 704.48 L97.4 704.22 L97.5 703.95 L97.5 703.68 L97.6 703.41 L97.7 703.14 L97.7 702.87 L97.8 702.60 L97.8 702.34 L97.9 702.07 L97.9 701.80 L98.0 701.53 L98.1 701.26 L98.1 700.99 L98.2 700.72 L98.3 700.46 L98.4 700.19 L98.4 699.92 L98.5 699.66 L98.6 699.39 L98.7 699.13 L98.8 698.87 L98.9 698.61 L99.0 698.35 L99.1 698.09 L99.2 697.83 L99.3 697.58 L99.4 697.32 L99.5 697.07 L99.6 696.82 L99.8 696.57 L99.9 696.33 L100.0 696.09 L100.2 695.85 L100.3 695.62 L100.5 695.40 L100.6 695.19 L100.7 694.99 L100.9 694.80 L101.0 694.62 L101.2 694.46 L101.4 694.31 L101.5 694.18 L101.7 694.06 L101.8 693.96 L102.0 693.88 L102.1 693.83 L102.3 693.79 L102.5 693.78 L102.6 693.79 L102.8 693.82 L102.9 693.88 L103.1 693.96 L103.2 694.05 L103.4 694.17 L103.5 694.30 L103.6 694.45 L103.8 694.62 L103.9 694.80 L104.1 694.99 L104.2 695.19 L104.3 695.41 L104.5 695.63 L104.6 695.86 L104.7 696.10 L104.8 696.35 L104.9 696.60 L105.0 696.85 L105.1 697.10 L105.2 697.36 L105.3 697.62 L105.4 697.89 L105.5 698.15 L105.6 698.42 L105.7 698.69 L105.8 698.96 L105.8 699.23 L105.9 699.50 L106.0 699.78 L106.1 700.05 L106.1 700.33 L106.2 700.61 L106.3 700.89 L106.3 701.17 L106.4 701.45 L106.4 701.73 L106.5 702.01 L106.5 702.29 L106.6 702.57 L106.6 702.85 L106.7 703.13 L106.7 703.41 L106.8 703.69 L106.8 703.97 L106.9 704.25 L106.9 704.52 L107.0 704.80 L107.0 705.07 L107.1 705.35 L107.1 705.62 L107.2 705.89 L107.2 706.16 L107.3 706.43 L107.3 706.69 L107.3 706.96 L107.4 707.22 L107.4 707.48 L107.5 707.74 L107.5 707.99 L107.6 708.25 L107.6 708.50 L107.7 708.76 L107.7 709.01 L107.8 709.26 L107.8 709.51 L107.9 709.76 L107.9 710.00 L108.0 710.25 L108.0 710.49 L108.1 710.74 L108.1 710.98 L108.2 711.22 L108.2 711.46 L108.3 711.70 L108.3 711.94 L108.4 712.18 L108.5 712.42 L108.5 712.65 L108.6 712.89 L108.6 713.13 L108.7 713.36 L108.7 713.60 L108.8 713.83 L108.8 714.07 L108.9 714.30 L108.9 714.54 L109.0 714.77 L109.1 715.01 L109.1 715.24 L109.2 715.47 L109.2 715.71 L109.3 715.94 L109.3 716.18 L109.4 716.41 L109.4 716.65 L109.5 716.88 L109.6 717.12 L109.6 717.36 L109.7 717.59 L109.7 717.83 L109.8 718.07 L109.8 718.31 L109.9 718.55 L110.0 718.79 L110.0 719.03 L110.1 719.27 L110.1 719.51 L110.2 719.75 L110.3 720.00 L110.3 720.24 L110.4 720.49 L110.4 720.73 L110.5 720.98 L110.6 721.23 L110.6 721.47 L110.7 721.72 L110.7 721.97 L110.8 722.22 L110.9 722.47 L110.9 722.72 L111.0 722.97 L111.0 723.22 L111.1 723.47 L111.2 723.72 L111.2 723.97 L111.3 724.23 L111.4 724.48 L111.4 724.73 L111.5 724.98 L111.6 725.23 L111.6 725.49 L111.7 725.74 L111.8 725.99 L111.8 726.25 L111.9 726.50 L112.0 726.75 L112.1 727.00 L112.1 727.26 L112.2 727.51 L112.3 727.76 L112.3 728.01 L112.4 728.27 L112.5 728.52 L112.6 728.77 L112.7 729.02 L112.7 729.27 L112.8 729.52 L112.9 729.77 L113.0 730.02 L113.1 730.27 L113.1 730.52 L113.2 730.77 L113.3 731.02 L113.4 731.27 L113.5 731.51 L113.6 731.76 L113.7 732.01 L113.8 732.25 L113.9 732.50 L113.9 732.74 L114.0 732.98 L114.1 733.23 L114.2 733.47 L114.3 733.71 L114.4 733.95 L114.5 734.19 L114.6 734.43 L114.7 734.67 L114.8 734.90 L115.0 735.14 L115.1 735.37 L115.2 735.61 L115.3 735.84 L115.4 736.07 L115.5 736.30 L115.6 736.53 L115.7 736.76 L115.9 736.99 L116.0 737.21 L116.1 737.44 L116.2 737.66 L116.4 737.89 L116.5 738.11 L116.6 738.33 L116.7 738.54 L116.9 738.76 L117.0 738.98 L117.1 739.19 L117.3 739.40 L117.4 739.62 L117.6 739.83 L117.7 740.03 L117.8 740.24 L118.0 740.45 L118.1 740.65 L118.3 740.85 L118.4 741.05 L118.6 741.25 L118.7 741.45 L118.9 741.65 L119.1 741.84 L119.2 742.04 L119.4 742.23 L119.5 742.42 L119.7 742.61 L119.9 742.80 L120.0 742.98 L120.2 743.17 L120.4 743.35 L120.5 743.53 L120.7 743.71 L120.9 743.89 L121.1 744.07 L121.2 744.25 L121.4 744.42 L121.6 744.59 L121.8 744.76 L122.0 744.93 L122.2 745.10 L122.3 745.27 L122.5 745.44 L122.7 745.60 L122.9 745.76 L123.1 745.93 L123.3 746.09 L123.5 746.25 L123.7 746.40 L123.9 746.56 L124.1 746.71 L124.3 746.87 L124.5 747.02 L124.7 747.17 L124.9 747.32 L125.1 747.46 L125.3 747.61 L125.5 747.75 L125.7 747.90 L125.9 748.04 L126.1 748.18 L126.3 748.32 L126.5 748.45 L126.7 748.59 L127.0 748.72 L127.2 748.86 L127.4 748.99 L127.6 749.12 L127.8 749.25 L128.0 749.38 L128.3 749.50 L128.5 749.63 L128.7 749.75 L128.9 749.87 L129.1 749.99 L129.4 750.11 L129.6 750.23 L129.8 750.34 L130.1 750.46 L130.3 750.57 L130.5 750.68 L130.7 750.79 L131.0 750.90 L131.2 751.01 L131.4 751.11 L131.7 751.22 L131.9 751.32 L132.1 751.42 L132.4 751.52 L132.6 751.62 L132.8 751.72 L133.1 751.82 L133.3 751.91 L133.6 752.01 L133.8 752.10 L134.0 752.19 L134.3 752.28 L134.5 752.37 L134.8 752.45 L135.0 752.54 L135.2 752.62 L135.5 752.70 L135.7 752.78 L136.0 752.86 L136.2 752.94 L136.5 753.02 L136.7 753.09 L137.0 753.17 L137.2 753.24 L137.5 753.31 L137.7 753.38 L138.0 753.45 L138.2 753.52 L138.5 753.58 L138.7 753.65 L139.0 753.71 L139.2 753.77 L139.5 753.83 L139.7 753.89 L140.0 753.95 L140.2 754.01 L140.5 754.06 L140.7 754.11 L141.0 754.17 L141.2 754.22 L141.5 754.27 L141.7 754.31 L142.0 754.36 L142.3 754.41 L142.5 754.45 L142.8 754.49 L143.0 754.53 L143.3 754.57 L143.5 754.61 L143.8 754.65 L144.0 754.68 L144.3 754.72 L144.6 754.75 L144.8 754.78 L145.1 754.81 L145.3 754.84 L145.6 754.87 L145.8 754.89 L146.1 754.92 L146.4 754.94 L146.6 754.97 L146.9 754.99 L147.1 755.00 L147.4 755.00 L147.6 755.00 L147.9 755.00 L148.2 755.00 L148.4 755.00 L148.7 755.00 L148.9 755.00 L149.2 755.00 L149.4 755.00 L149.7 755.00 L149.9 755.00 L150.2 755.00 L150.5 755.00 L150.7 755.00 L151.0 755.00 L151.2 755.00 L151.5 755.00 L151.7 755.00 L152.0 755.00 L152.2 755.00 L152.5 755.00 L152.7 755.00 L153.0 755.00 L153.3 755.00 L153.5 755.00 L153.8 755.00 L154.0 755.00 L154.3 755.00 L154.5 755.00 L154.8 755.00 L155.0 755.00 L155.00 755.00 Z"/><clipPath id="c5"><use href="#p5"/></clipPath><path id="p6" d="M205.00 755.00 L205.0 755.00 L205.5 754.93 L205.9 754.86 L206.4 754.81 L206.9 754.76 L207.4 754.72 L207.9 754.68 L208.5 754.66 L209.0 754.63 L209.6 754.62 L210.1 754.60 L210.7 754.59 L211.2 754.57 L211.8 754.56 L212.4 754.55 L213.0 754.54 L213.6 754.52 L214.2 754.50 L214.7 754.48 L215.3 754.45 L215.9 754.41 L216.5 754.37 L217.1 754.32 L217.7 754.26 L218.3 754.19 L218.8 754.11 L219.4 754.02 L220.0 753.92 L220.5 753.80 L221.1 753.67 L221.6 753.52 L222.1 753.37 L222.7 753.19 L223.2 753.01 L223.7 752.81 L224.2 752.60 L224.7 752.38 L225.2 752.15 L225.6 751.91 L226.1 751.65 L226.6 751.38 L227.0 751.11 L227.5 750.82 L227.9 750.52 L228.3 750.21 L228.8 749.90 L229.2 749.57 L229.6 749.23 L230.0 748.89 L230.4 748.54 L230.8 748.18 L231.2 747.81 L231.6 747.43 L231.9 747.05 L232.3 746.65 L232.7 746.26 L233.0 745.85 L233.4 745.44 L233.7 745.02 L234.1 744.60 L234.4 744.17 L234.7 743.74 L235.0 743.30 L235.4 742.85 L235.7 742.41 L236.0 741.95 L236.3 741.50 L236.6 741.04 L236.9 740.58 L237.2 740.11 L237.4 739.64 L237.7 739.17 L238.0 738.70 L238.3 738.22 L238.5 737.74 L238.8 737.26 L239.0 736.78 L239.3 736.30 L239.5 735.81 L239.8 735.33 L240.0 734.84 L240.2 734.35 L240.5 733.86 L240.7 733.36 L240.9 732.87 L241.1 732.37 L241.3 731.88 L241.5 731.38 L241.7 730.88 L242.0 730.37 L242.1 729.87 L242.3 729.36 L242.5 728.86 L242.7 728.35 L242.9 727.84 L243.1 727.33 L243.3 726.82 L243.4 726.31 L243.6 725.79 L243.8 725.28 L243.9 724.76 L244.1 724.24 L244.2 723.72 L244.4 723.20 L244.6 722.68 L244.7 722.16 L244.8 721.63 L245.0 721.11 L245.1 720.58 L245.3 720.06 L245.4 719.53 L245.5 719.00 L245.7 718.47 L245.8 717.94 L245.9 717.41 L246.0 716.88 L246.2 716.35 L246.3 715.81 L246.4 715.28 L246.5 714.74 L246.6 714.21 L246.7 713.67 L246.8 713.13 L246.9 712.59 L247.0 712.06 L247.1 711.52 L247.3 710.98 L247.3 710.44 L247.4 709.90 L247.5 709.36 L247.6 708.81 L247.7 708.27 L247.8 707.73 L247.9 707.19 L248.0 706.64 L248.1 706.10 L248.2 705.56 L248.2 705.01 L248.3 704.47 L248.4 703.92 L248.5 703.38 L248.6 702.83 L248.7 702.29 L248.7 701.74 L248.8 701.19 L248.9 700.65 L249.0 700.10 L249.0 699.56 L249.1 699.01 L249.2 698.46 L249.3 697.92 L249.3 697.37 L249.4 696.83 L249.5 696.28 L249.5 695.73 L249.6 695.19 L249.7 694.64 L249.8 694.10 L249.8 693.55 L249.9 693.01 L250.0 692.46 L250.0 691.92 L250.1 691.38 L250.2 690.83 L250.3 690.29 L250.3 689.75 L250.4 689.20 L250.5 688.66 L250.6 688.12 L250.6 687.58 L250.7 687.04 L250.8 686.50 L250.9 685.96 L250.9 685.42 L251.0 684.88 L251.1 684.34 L251.2 683.80 L251.2 683.27 L251.3 682.73 L251.4 682.19 L251.5 681.66 L251.6 681.12 L251.6 680.58 L251.7 680.05 L251.8 679.51 L251.9 678.98 L252.0 678.44 L252.0 677.91 L252.1 677.37 L252.2 676.84 L252.3 676.31 L252.4 675.77 L252.4 675.24 L252.5 674.71 L252.6 674.17 L252.7 673.64 L252.8 673.11 L252.9 672.57 L252.9 672.04 L253.0 671.51 L253.1 670.97 L253.2 670.44 L253.3 669.91 L253.3 669.37 L253.4 668.84 L253.5 668.31 L253.6 667.77 L253.7 667.24 L253.7 666.70 L253.8 666.17 L253.9 665.64 L254.0 665.10 L254.1 664.57 L254.1 664.03 L254.2 663.50 L254.3 662.96 L254.4 662.43 L254.4 661.89 L254.5 661.36 L254.6 660.82 L254.7 660.28 L254.7 659.74 L254.8 659.21 L254.9 658.67 L255.0 658.13 L255.0 657.59 L255.1 657.05 L255.2 656.51 L255.2 655.97 L255.3 655.43 L255.4 654.89 L255.4 654.35 L255.5 653.81 L255.6 653.26 L255.6 652.72 L255.7 652.18 L255.7 651.63 L255.8 651.09 L255.9 650.54 L255.9 649.99 L256.0 649.45 L256.0 648.90 L256.1 648.35 L256.2 647.81 L256.2 647.26 L256.3 646.71 L256.3 646.16 L256.4 645.61 L256.4 645.06 L256.5 644.51 L256.5 643.97 L256.6 643.42 L256.6 642.87 L256.7 642.32 L256.7 641.77 L256.8 641.22 L256.8 640.67 L256.9 640.12 L256.9 639.57 L257.0 639.02 L257.0 638.47 L257.1 637.92 L257.1 637.37 L257.2 636.83 L257.2 636.28 L257.3 635.73 L257.3 635.18 L257.3 634.63 L257.4 634.09 L257.4 633.54 L257.5 633.00 L257.5 632.45 L257.6 631.90 L257.6 631.36 L257.7 630.82 L257.7 630.27 L257.8 629.73 L257.8 629.19 L257.9 628.65 L257.9 628.10 L258.0 627.56 L258.0 627.03 L258.1 626.49 L258.1 625.95 L258.2 625.41 L258.2 624.88 L258.3 624.34 L258.3 623.81 L258.4 623.27 L258.4 622.74 L258.5 622.21 L258.5 621.68 L258.6 621.15 L258.6 620.62 L258.7 620.09 L258.8 619.57 L258.8 619.04 L258.9 618.52 L258.9 617.99 L259.0 617.47 L259.0 616.95 L259.1 616.43 L259.2 615.91 L259.2 615.39 L259.3 614.86 L259.4 614.34 L259.4 613.82 L259.5 613.30 L259.5 612.77 L259.6 612.25 L259.7 611.72 L259.7 611.20 L259.8 610.67 L259.9 610.14 L259.9 609.61 L260.0 609.07 L260.1 608.53 L260.2 608.00 L260.2 607.45 L260.3 606.91 L260.4 606.36 L260.4 605.81 L260.5 605.26 L260.6 604.70 L260.6 604.14 L260.7 603.58 L260.8 603.01 L260.9 602.44 L260.9 601.86 L261.0 601.28 L261.1 600.70 L261.2 600.11 L261.2 599.51 L261.3 598.91 L261.4 598.31 L261.5 597.70 L261.5 597.08 L261.6 596.46 L261.7 595.83 L261.8 595.20 L261.8 594.56 L261.9 593.91 L262.0 593.26 L262.1 592.61 L262.1 591.97 L262.2 591.35 L262.3 590.77 L262.4 590.24 L262.4 589.77 L262.5 589.37 L262.6 589.05 L262.7 588.82 L262.7 588.70 L262.8 588.70 L262.9 588.81 L263.0 589.03 L263.1 589.35 L263.1 589.75 L263.2 590.23 L263.3 590.76 L263.4 591.34 L263.4 591.95 L263.5 592.59 L263.6 593.24 L263.7 593.89 L263.7 594.53 L263.8 595.16 L263.9 595.78 L263.9 596.39 L264.0 596.99 L264.1 597.58 L264.1 598.16 L264.2 598.74 L264.2 599.31 L264.3 599.88 L264.3 600.44 L264.4 601.00 L264.5 601.56 L264.5 602.11 L264.6 602.67 L264.6 603.22 L264.7 603.77 L264.7 604.32 L264.8 604.87 L264.8 605.42 L264.9 605.97 L264.9 606.52 L265.0 607.07 L265.0 607.62 L265.1 608.17 L265.1 608.72 L265.1 609.27 L265.2 609.81 L265.2 610.36 L265.3 610.91 L265.3 611.45 L265.4 612.00 L265.4 612.55 L265.4 613.09 L265.5 613.64 L265.5 614.18 L265.6 614.72 L265.6 615.27 L265.6 615.81 L265.7 616.35 L265.7 616.90 L265.8 617.44 L265.8 617.98 L265.8 618.53 L265.9 619.07 L265.9 619.61 L265.9 620.15 L266.0 620.69 L266.0 621.23 L266.1 621.78 L266.1 622.32 L266.1 622.86 L266.2 623.40 L266.2 623.94 L266.2 624.48 L266.3 625.02 L266.3 625.56 L266.3 626.10 L266.4 626.64 L266.4 627.18 L266.4 627.72 L266.5 628.26 L266.5 628.80 L266.5 629.34 L266.6 629.88 L266.6 630.42 L266.6 630.96 L266.7 631.50 L266.7 632.04 L266.7 632.58 L266.8 633.12 L266.8 633.66 L266.8 634.20 L266.8 634.74 L266.9 635.28 L266.9 635.82 L266.9 636.36 L267.0 636.90 L267.0 637.44 L267.0 637.98 L267.1 638.52 L267.1 639.06 L267.1 639.60 L267.2 640.14 L267.2 640.69 L267.2 641.23 L267.3 641.77 L267.3 642.31 L267.3 642.85 L267.4 643.39 L267.4 643.94 L267.4 644.48 L267.5 645.02 L267.5 645.56 L267.5 646.10 L267.6 646.65 L267.6 647.19 L267.7 647.73 L267.7 648.27 L267.7 648.82 L267.8 649.36 L267.8 649.90 L267.8 650.44 L267.9 650.99 L267.9 651.53 L267.9 652.07 L268.0 652.62 L268.0 653.16 L268.0 653.70 L268.1 654.25 L268.1 654.79 L268.1 655.33 L268.2 655.88 L268.2 656.42 L268.2 656.96 L268.3 657.51 L268.3 658.05 L268.3 658.60 L268.4 659.14 L268.4 659.68 L268.5 660.23 L268.5 660.77 L268.5 661.32 L268.6 661.86 L268.6 662.40 L268.6 662.95 L268.7 663.49 L268.7 664.04 L268.7 664.58 L268.8 665.13 L268.8 665.67 L268.9 666.22 L268.9 666.76 L268.9 667.31 L269.0 667.85 L269.0 668.40 L269.0 668.94 L269.1 669.49 L269.1 670.03 L269.1 670.58 L269.2 671.12 L269.2 671.67 L269.3 672.21 L269.3 672.76 L269.3 673.30 L269.4 673.85 L269.4 674.39 L269.4 674.94 L269.5 675.48 L269.5 676.03 L269.6 676.57 L269.6 677.12 L269.6 677.66 L269.7 678.21 L269.7 678.75 L269.7 679.30 L269.8 679.84 L269.8 680.39 L269.9 680.94 L269.9 681.48 L269.9 682.03 L270.0 682.57 L270.0 683.12 L270.1 683.66 L270.1 684.21 L270.1 684.75 L270.2 685.30 L270.2 685.84 L270.2 686.39 L270.3 686.94 L270.3 687.48 L270.4 688.03 L270.4 688.57 L270.4 689.12 L270.5 689.66 L270.5 690.21 L270.6 690.75 L270.6 691.30 L270.6 691.84 L270.7 692.39 L270.7 692.93 L270.8 693.48 L270.8 694.02 L270.8 694.57 L270.9 695.11 L270.9 695.66 L271.0 696.20 L271.0 696.75 L271.1 697.29 L271.1 697.84 L271.2 698.38 L271.2 698.92 L271.3 699.47 L271.3 700.01 L271.4 700.55 L271.4 701.10 L271.5 701.64 L271.5 702.18 L271.6 702.72 L271.6 703.27 L271.7 703.81 L271.7 704.35 L271.8 704.89 L271.9 705.43 L271.9 705.97 L272.0 706.51 L272.0 707.05 L272.1 707.59 L272.2 708.13 L272.2 708.67 L272.3 709.21 L272.4 709.75 L272.5 710.29 L272.5 710.83 L272.6 711.36 L272.7 711.90 L272.8 712.44 L272.9 712.97 L272.9 713.51 L273.0 714.04 L273.1 714.58 L273.2 715.11 L273.3 715.65 L273.4 716.18 L273.5 716.72 L273.6 717.25 L273.7 717.78 L273.8 718.31 L273.9 718.84 L274.0 719.38 L274.1 719.91 L274.2 720.44 L274.4 720.97 L274.5 721.49 L274.6 722.02 L274.7 722.55 L274.8 723.08 L275.0 723.60 L275.1 724.13 L275.2 724.66 L275.4 725.18 L275.5 725.71 L275.6 726.23 L275.8 726.75 L275.9 727.28 L276.1 727.80 L276.2 728.32 L276.4 728.84 L276.6 729.36 L276.7 729.88 L276.9 730.40 L277.1 730.92 L277.2 731.43 L277.4 731.95 L277.6 732.47 L277.8 732.98 L277.9 733.50 L278.1 734.01 L278.3 734.52 L278.5 735.04 L278.7 735.55 L278.9 736.06 L279.1 736.57 L279.3 737.08 L279.6 737.59 L279.8 738.09 L280.0 738.60 L280.2 739.11 L280.4 739.61 L280.7 740.12 L280.9 740.62 L281.2 741.12 L281.4 741.61 L281.7 742.11 L281.9 742.59 L282.2 743.08 L282.5 743.56 L282.7 744.04 L283.0 744.51 L283.3 744.97 L283.6 745.43 L283.9 745.88 L284.2 746.32 L284.5 746.76 L284.9 747.19 L285.2 747.61 L285.6 748.02 L285.9 748.42 L286.3 748.81 L286.7 749.19 L287.0 749.56 L287.4 749.92 L287.8 750.27 L288.3 750.61 L288.7 750.93 L289.1 751.24 L289.6 751.54 L290.0 751.83 L290.5 752.10 L291.0 752.35 L291.5 752.60 L292.0 752.82 L292.5 753.03 L293.1 753.23 L293.6 753.40 L294.2 753.56 L294.8 753.71 L295.4 753.83 L296.0 753.94 L296.6 754.03 L297.2 754.11 L297.9 754.17 L298.5 754.22 L299.1 754.27 L299.8 754.30 L300.4 754.32 L301.1 754.34 L301.7 754.35 L302.4 754.36 L303.0 754.36 L303.6 754.37 L304.2 754.37 L304.8 754.37 L305.4 754.38 L305.9 754.39 L306.4 754.41 L307.0 754.43 L307.4 754.46 L307.9 754.50 L308.3 754.55 L308.7 754.61 L309.1 754.68 L309.4 754.77 L309.7 754.88 L310.0 755.00 L310.00 755.00 Z"/><clipPath id="c6"><use href="#p6"/></clipPath><linearGradient id="g2" gradientUnits="userSpaceOnUse" x1="424.40" y1="0" x2="778.80" y2="0"><stop offset="0.0000" stop-color="#080820"/><stop offset="0.1000" stop-color="#000030"/><stop offset="0.1300" stop-color="#000068"/><stop offset="0.1500" stop-color="#0000a0"/><stop offset="0.1675" stop-color="#0000e0"/><stop offset="0.1825" stop-color="#0000ff"/><stop offset="0.2050" stop-color="#0030f8"/><stop offset="0.2175" stop-color="#0070f0"/><stop offset="0.2350" stop-color="#00a0f0"/><stop offset="0.2500" stop-color="#00d0f0"/><stop offset="0.2650" stop-color="#00f0f0"/><stop offset="0.2875" stop-color="#20e0c0"/><stop offset="0.3100" stop-color="#38e0a0"/><stop offset="0.3325" stop-color="#30d050"/><stop offset="0.3875" stop-color="#50d820"/><stop offset="0.4300" stop-color="#a0e020"/><stop offset="0.4700" stop-color="#f0f000"/><stop offset="0.5175" stop-color="#ffa000"/><stop offset="0.5525" stop-color="#ff6000"/><stop offset="0.5825" stop-color="#ff1800"/><stop offset="0.6050" stop-color="#ff0800"/><stop offset="0.6300" stop-color="#f00000"/><stop offset="0.6550" stop-color="#e00000"/><stop offset="0.6800" stop-color="#d00000"/><stop offset="0.7050" stop-color="#b40000"/><stop offset="0.7375" stop-color="#840000"/><stop offset="0.7750" stop-color="#560000"/><stop offset="0.9000" stop-color="#300808"/><stop offset="1.0000" stop-color="#200505"/></linearGradient><path id="p7" d="M424.50 230.00 L424.4 229.88 L424.4 228.70 L424.8 227.69 L425.4 226.81 L426.1 226.02 L427.1 225.31 L428.1 224.62 L429.1 223.94 L430.1 223.23 L431.1 222.45 L431.9 221.58 L432.6 220.59 L433.1 219.44 L433.4 218.17 L433.7 216.85 L434.0 215.53 L434.5 214.29 L435.1 213.19 L436.1 212.34 L437.1 211.98 L438.1 212.28 L439.0 213.11 L439.7 214.27 L440.3 215.51 L440.8 216.74 L441.1 217.92 L441.5 219.06 L441.9 220.14 L442.5 221.16 L443.2 222.11 L444.0 222.98 L445.1 223.76 L446.2 224.45 L447.4 225.03 L448.6 225.49 L449.9 225.83 L451.1 226.04 L452.4 226.12 L453.6 226.06 L454.7 225.87 L455.9 225.56 L456.9 225.15 L458.0 224.63 L459.0 224.03 L460.0 223.34 L460.9 222.57 L461.8 221.75 L462.6 220.86 L463.4 219.93 L464.2 218.96 L464.9 217.95 L465.6 216.93 L466.3 215.88 L466.9 214.81 L467.5 213.73 L468.0 212.62 L468.5 211.50 L469.0 210.37 L469.5 209.22 L469.9 208.05 L470.3 206.88 L470.7 205.69 L471.0 204.50 L471.3 203.30 L471.7 202.09 L472.0 200.88 L472.2 199.66 L472.5 198.44 L472.8 197.22 L473.0 195.99 L473.2 194.77 L473.5 193.55 L473.7 192.33 L473.9 191.12 L474.1 189.91 L474.3 188.70 L474.5 187.49 L474.7 186.28 L474.9 185.08 L475.0 183.88 L475.2 182.68 L475.4 181.48 L475.6 180.28 L475.7 179.08 L475.9 177.88 L476.0 176.68 L476.2 175.49 L476.3 174.29 L476.5 173.09 L476.6 171.90 L476.7 170.70 L476.9 169.50 L477.0 168.30 L477.1 167.10 L477.2 165.90 L477.3 164.69 L477.5 163.49 L477.6 162.28 L477.7 161.07 L477.8 159.86 L477.9 158.64 L478.0 157.43 L478.1 156.21 L478.2 154.98 L478.3 153.76 L478.4 152.53 L478.5 151.30 L478.6 150.06 L478.7 148.82 L478.8 147.57 L478.9 146.32 L479.0 145.07 L479.1 143.81 L479.2 142.55 L479.3 141.28 L479.4 140.00 L479.5 138.72 L479.6 137.44 L479.7 136.16 L479.9 134.88 L480.0 133.60 L480.1 132.32 L480.2 131.05 L480.3 129.79 L480.4 128.53 L480.5 127.29 L480.6 126.05 L480.7 124.83 L480.9 123.62 L481.0 122.42 L481.1 121.24 L481.2 120.08 L481.4 118.94 L481.5 117.83 L481.6 116.73 L481.8 115.66 L481.9 114.61 L482.1 113.59 L482.2 112.58 L482.3 111.57 L482.5 110.56 L482.6 109.53 L482.8 108.48 L482.9 107.39 L483.0 106.26 L483.1 105.07 L483.2 103.81 L483.3 102.49 L483.4 101.08 L483.5 99.57 L483.6 97.97 L483.6 96.25 L483.6 94.42 L483.7 92.57 L483.7 90.80 L483.8 89.23 L484.0 87.98 L484.2 87.17 L484.6 86.89 L485.0 87.28 L485.5 88.25 L486.1 89.53 L486.6 90.85 L487.0 92.12 L487.3 93.35 L487.5 94.54 L487.7 95.72 L487.9 96.89 L488.0 98.05 L488.2 99.22 L488.3 100.40 L488.5 101.58 L488.6 102.77 L488.8 103.96 L488.9 105.16 L489.0 106.36 L489.2 107.57 L489.3 108.78 L489.4 110.00 L489.5 111.21 L489.6 112.44 L489.7 113.66 L489.9 114.89 L490.0 116.12 L490.1 117.36 L490.2 118.59 L490.3 119.83 L490.4 121.07 L490.5 122.31 L490.6 123.56 L490.6 124.80 L490.7 126.04 L490.8 127.29 L490.9 128.54 L491.0 129.78 L491.1 131.03 L491.2 132.28 L491.3 133.52 L491.4 134.77 L491.5 136.01 L491.5 137.26 L491.6 138.50 L491.7 139.74 L491.8 140.98 L491.9 142.21 L492.0 143.45 L492.1 144.68 L492.2 145.91 L492.3 147.13 L492.4 148.36 L492.5 149.58 L492.6 150.79 L492.7 152.00 L492.8 153.21 L492.9 154.42 L493.0 155.62 L493.2 156.82 L493.3 158.01 L493.4 159.21 L493.5 160.40 L493.7 161.59 L493.8 162.77 L494.0 163.96 L494.1 165.14 L494.3 166.33 L494.4 167.51 L494.6 168.69 L494.7 169.87 L494.9 171.05 L495.1 172.23 L495.3 173.41 L495.5 174.59 L495.7 175.77 L495.9 176.95 L496.1 178.13 L496.3 179.31 L496.5 180.50 L496.8 181.68 L497.0 182.87 L497.2 184.06 L497.5 185.25 L497.8 186.44 L498.0 187.63 L498.3 188.83 L498.6 190.03 L498.9 191.23 L499.2 192.44 L499.6 193.65 L499.9 194.86 L500.2 196.08 L500.6 197.30 L500.9 198.53 L501.3 199.75 L501.7 200.99 L502.1 202.23 L502.5 203.47 L502.9 204.72 L503.4 205.96 L503.8 207.20 L504.3 208.42 L504.8 209.63 L505.3 210.82 L505.8 211.98 L506.4 213.12 L507.0 214.22 L507.6 215.29 L508.3 216.31 L509.0 217.29 L509.7 218.22 L510.5 219.09 L511.3 219.91 L512.2 220.66 L513.1 221.35 L514.1 221.96 L515.1 222.51 L516.1 223.00 L517.2 223.42 L518.3 223.79 L519.4 224.11 L520.6 224.38 L521.8 224.60 L523.0 224.78 L524.3 224.92 L525.5 225.02 L526.8 225.10 L528.1 225.14 L529.4 225.16 L530.7 225.16 L532.0 225.14 L533.2 225.11 L534.5 225.07 L535.8 225.02 L537.1 224.97 L538.3 224.91 L539.6 224.84 L540.8 224.77 L542.0 224.70 L543.2 224.63 L544.4 224.55 L545.7 224.47 L546.9 224.38 L548.1 224.30 L549.3 224.21 L550.4 224.13 L551.6 224.04 L552.8 223.95 L554.0 223.86 L555.2 223.78 L556.4 223.69 L557.6 223.61 L558.7 223.53 L559.9 223.45 L561.1 223.38 L562.3 223.30 L563.5 223.23 L564.7 223.16 L565.9 223.10 L567.1 223.03 L568.3 222.97 L569.5 222.91 L570.7 222.84 L571.9 222.78 L573.2 222.72 L574.4 222.66 L575.6 222.60 L576.8 222.54 L578.0 222.47 L579.3 222.41 L580.5 222.34 L581.7 222.27 L583.0 222.20 L584.2 222.13 L585.4 222.05 L586.7 221.98 L587.9 221.90 L589.1 221.81 L590.4 221.72 L591.6 221.63 L592.9 221.53 L594.1 221.43 L595.4 221.33 L596.6 221.22 L597.9 221.10 L599.1 220.98 L600.4 220.85 L601.7 220.71 L602.9 220.57 L604.2 220.41 L605.4 220.23 L606.7 220.03 L607.9 219.81 L609.1 219.56 L610.3 219.28 L611.5 218.97 L612.7 218.61 L613.8 218.22 L614.9 217.78 L616.0 217.29 L617.0 216.76 L618.1 216.16 L619.0 215.52 L620.0 214.82 L620.9 214.08 L621.8 213.30 L622.6 212.47 L623.5 211.60 L624.3 210.69 L625.0 209.75 L625.8 208.78 L626.5 207.77 L627.1 206.74 L627.8 205.69 L628.4 204.61 L629.0 203.51 L629.6 202.39 L630.1 201.25 L630.6 200.11 L631.1 198.95 L631.6 197.78 L632.0 196.61 L632.4 195.43 L632.8 194.26 L633.2 193.08 L633.6 191.90 L633.9 190.72 L634.2 189.54 L634.5 188.36 L634.8 187.18 L635.1 186.00 L635.3 184.81 L635.5 183.63 L635.8 182.44 L636.0 181.25 L636.2 180.06 L636.4 178.87 L636.6 177.67 L636.7 176.48 L636.9 175.28 L637.1 174.08 L637.2 172.88 L637.4 171.67 L637.6 170.46 L637.7 169.25 L637.9 168.04 L638.0 166.83 L638.2 165.61 L638.4 164.39 L638.5 163.17 L638.7 161.94 L638.8 160.72 L639.0 159.49 L639.1 158.26 L639.3 157.04 L639.5 155.80 L639.6 154.57 L639.8 153.34 L639.9 152.11 L640.1 150.87 L640.2 149.64 L640.4 148.41 L640.5 147.17 L640.7 145.94 L640.8 144.70 L641.0 143.47 L641.1 142.24 L641.3 141.01 L641.4 139.77 L641.6 138.54 L641.7 137.31 L641.9 136.08 L642.0 134.86 L642.2 133.63 L642.3 132.41 L642.5 131.19 L642.6 129.96 L642.7 128.75 L642.9 127.53 L643.0 126.32 L643.2 125.11 L643.3 123.90 L643.4 122.69 L643.6 121.49 L643.7 120.29 L643.8 119.09 L643.9 117.90 L644.1 116.71 L644.2 115.53 L644.3 114.34 L644.4 113.16 L644.6 111.99 L644.7 110.81 L644.8 109.64 L644.9 108.46 L645.1 107.29 L645.2 106.11 L645.3 104.94 L645.4 103.76 L645.5 102.57 L645.7 101.39 L645.8 100.20 L645.9 99.01 L646.1 97.81 L646.2 96.60 L646.3 95.39 L646.5 94.17 L646.6 92.95 L646.7 91.71 L646.9 90.47 L647.0 89.22 L647.2 87.95 L647.3 86.68 L647.5 85.39 L647.7 84.10 L647.8 82.79 L648.0 81.46 L648.2 80.13 L648.4 78.77 L648.6 77.41 L648.8 76.03 L649.0 74.63 L649.2 73.21 L649.4 71.79 L649.6 70.48 L649.8 69.42 L650.1 68.77 L650.3 68.67 L650.5 69.19 L650.7 70.21 L651.0 71.54 L651.2 73.02 L651.4 74.49 L651.6 75.88 L651.8 77.19 L652.0 78.44 L652.1 79.66 L652.3 80.84 L652.5 82.01 L652.6 83.18 L652.8 84.36 L652.9 85.55 L653.0 86.75 L653.1 87.95 L653.2 89.15 L653.3 90.37 L653.3 91.58 L653.4 92.80 L653.5 94.03 L653.6 95.25 L653.6 96.48 L653.7 97.71 L653.8 98.94 L653.8 100.17 L653.9 101.40 L654.0 102.63 L654.1 103.86 L654.2 105.09 L654.2 106.32 L654.3 107.55 L654.4 108.78 L654.5 110.01 L654.6 111.24 L654.7 112.47 L654.8 113.70 L654.9 114.92 L655.0 116.15 L655.1 117.38 L655.2 118.61 L655.3 119.83 L655.3 121.06 L655.4 122.29 L655.5 123.51 L655.6 124.74 L655.7 125.96 L655.8 127.19 L655.9 128.41 L656.0 129.64 L656.0 130.86 L656.1 132.09 L656.2 133.31 L656.3 134.53 L656.3 135.76 L656.4 136.98 L656.4 138.20 L656.5 139.42 L656.6 140.65 L656.6 141.87 L656.7 143.09 L656.7 144.31 L656.8 145.53 L656.8 146.75 L656.9 147.97 L656.9 149.19 L657.0 150.41 L657.0 151.63 L657.1 152.85 L657.1 154.07 L657.2 155.29 L657.3 156.51 L657.3 157.73 L657.4 158.94 L657.5 160.16 L657.5 161.38 L657.6 162.60 L657.7 163.81 L657.8 165.03 L657.8 166.25 L657.9 167.46 L658.0 168.68 L658.1 169.89 L658.2 171.11 L658.3 172.32 L658.5 173.54 L658.6 174.75 L658.7 175.97 L658.8 177.18 L659.0 178.39 L659.1 179.61 L659.3 180.82 L659.5 182.03 L659.6 183.25 L659.8 184.46 L660.0 185.67 L660.2 186.88 L660.4 188.09 L660.6 189.30 L660.9 190.52 L661.1 191.73 L661.4 192.94 L661.6 194.15 L661.9 195.36 L662.2 196.57 L662.5 197.78 L662.8 198.99 L663.1 200.20 L663.4 201.41 L663.8 202.61 L664.1 203.82 L664.5 205.03 L664.9 206.24 L665.3 207.44 L665.7 208.63 L666.2 209.81 L666.6 210.97 L667.1 212.11 L667.7 213.23 L668.2 214.32 L668.8 215.38 L669.4 216.41 L670.1 217.40 L670.8 218.35 L671.6 219.25 L672.3 220.10 L673.2 220.91 L674.1 221.65 L675.0 222.34 L676.0 222.96 L677.1 223.52 L678.1 224.03 L679.3 224.48 L680.4 224.89 L681.6 225.25 L682.9 225.57 L684.1 225.85 L685.4 226.10 L686.7 226.33 L687.9 226.53 L689.2 226.71 L690.5 226.88 L691.7 227.04 L693.0 227.19 L694.2 227.32 L695.5 227.45 L696.7 227.57 L697.9 227.67 L699.2 227.77 L700.4 227.85 L701.6 227.93 L702.8 228.00 L704.0 228.05 L705.2 228.10 L706.4 228.14 L707.6 228.17 L708.8 228.19 L710.0 228.20 L711.2 228.21 L712.4 228.21 L713.6 228.20 L714.8 228.18 L716.0 228.15 L717.2 228.10 L718.4 228.04 L719.6 227.95 L720.8 227.84 L722.0 227.69 L723.2 227.50 L724.4 227.26 L725.6 226.97 L726.8 226.63 L728.0 226.23 L729.2 225.77 L730.5 225.26 L731.7 224.73 L732.9 224.19 L734.1 223.67 L735.2 223.18 L736.4 222.76 L737.6 222.40 L738.7 222.14 L739.9 222.00 L741.0 222.00 L742.1 222.15 L743.2 222.47 L744.3 222.92 L745.4 223.49 L746.4 224.13 L747.5 224.83 L748.6 225.56 L749.6 226.28 L750.7 226.97 L751.8 227.61 L752.9 228.16 L754.1 228.60 L755.2 228.94 L756.4 229.18 L757.6 229.34 L758.8 229.43 L760.0 229.46 L761.3 229.46 L762.5 229.46 L763.8 229.46 L765.0 229.46 L766.2 229.46 L767.5 229.46 L768.7 229.46 L770.0 229.46 L771.2 229.46 L772.4 229.46 L773.6 229.46 L774.8 229.64 L776.0 230.00 L776.00 230.00 Z"/><clipPath id="c7"><use href="#p7"/></clipPath><linearGradient id="g4" gradientUnits="userSpaceOnUse" x1="425.30" y1="0" x2="776.31" y2="0"><stop offset="0.0000" stop-color="#000040"/><stop offset="0.1163" stop-color="#000060"/><stop offset="0.1860" stop-color="#0000c0"/><stop offset="0.2279" stop-color="#0010ff"/><stop offset="0.2419" stop-color="#0040ff"/><stop offset="0.2558" stop-color="#0080ff"/><stop offset="0.2698" stop-color="#00b0ff"/><stop offset="0.2837" stop-color="#00e0ff"/><stop offset="0.2953" stop-color="#00ffff"/><stop offset="0.3256" stop-color="#00ff80"/><stop offset="0.3651" stop-color="#00ff00"/><stop offset="0.4000" stop-color="#30ff00"/><stop offset="0.4302" stop-color="#70ff00"/><stop offset="0.4605" stop-color="#c0ff00"/><stop offset="0.4884" stop-color="#ffff00"/><stop offset="0.5116" stop-color="#ffc000"/><stop offset="0.5395" stop-color="#ff8000"/><stop offset="0.5651" stop-color="#ff4000"/><stop offset="0.5907" stop-color="#ff0000"/><stop offset="0.6512" stop-color="#e00000"/><stop offset="0.6977" stop-color="#c00000"/><stop offset="0.7395" stop-color="#900000"/><stop offset="0.7744" stop-color="#700000"/><stop offset="0.8116" stop-color="#500000"/><stop offset="0.8465" stop-color="#400000"/><stop offset="0.8837" stop-color="#250000"/><stop offset="1.0000" stop-color="#150000"/></linearGradient><path id="p8" d="M462.00 481.10 L461.7 481.10 L462.9 481.08 L464.2 480.98 L465.3 480.84 L466.5 480.64 L467.6 480.40 L468.6 480.12 L469.6 479.80 L470.6 479.43 L471.5 479.02 L472.4 478.57 L473.3 478.08 L474.1 477.56 L474.9 477.00 L475.6 476.40 L476.4 475.78 L477.0 475.12 L477.7 474.43 L478.3 473.71 L478.9 472.97 L479.5 472.19 L480.1 471.40 L480.6 470.58 L481.1 469.73 L481.6 468.87 L482.0 467.99 L482.4 467.09 L482.9 466.17 L483.3 465.23 L483.6 464.28 L484.0 463.32 L484.4 462.34 L484.7 461.36 L485.0 460.37 L485.3 459.36 L485.6 458.35 L485.9 457.34 L486.2 456.32 L486.5 455.30 L486.7 454.28 L487.0 453.26 L487.2 452.24 L487.5 451.22 L487.7 450.19 L488.0 449.17 L488.2 448.15 L488.4 447.13 L488.7 446.11 L488.9 445.09 L489.1 444.07 L489.3 443.05 L489.5 442.03 L489.7 441.01 L489.9 439.99 L490.1 438.97 L490.3 437.95 L490.5 436.93 L490.7 435.91 L490.8 434.89 L491.0 433.87 L491.2 432.85 L491.3 431.83 L491.5 430.82 L491.7 429.80 L491.8 428.78 L492.0 427.76 L492.1 426.74 L492.3 425.72 L492.4 424.71 L492.5 423.69 L492.7 422.67 L492.8 421.65 L492.9 420.63 L493.0 419.62 L493.2 418.60 L493.3 417.58 L493.4 416.56 L493.5 415.55 L493.6 414.53 L493.7 413.51 L493.8 412.49 L493.9 411.48 L494.0 410.46 L494.1 409.44 L494.2 408.43 L494.3 407.41 L494.4 406.39 L494.5 405.38 L494.6 404.36 L494.7 403.34 L494.8 402.33 L494.8 401.31 L494.9 400.29 L495.0 399.28 L495.1 398.26 L495.2 397.24 L495.2 396.23 L495.3 395.21 L495.4 394.19 L495.5 393.18 L495.5 392.16 L495.6 391.14 L495.7 390.13 L495.7 389.11 L495.8 388.09 L495.9 387.08 L495.9 386.06 L496.0 385.04 L496.1 384.03 L496.1 383.01 L496.2 381.99 L496.2 380.98 L496.3 379.96 L496.4 378.94 L496.4 377.93 L496.5 376.91 L496.6 375.89 L496.6 374.88 L496.7 373.86 L496.8 372.84 L496.8 371.83 L496.9 370.81 L497.0 369.79 L497.0 368.78 L497.1 367.76 L497.2 366.74 L497.2 365.72 L497.3 364.71 L497.4 363.69 L497.4 362.67 L497.5 361.65 L497.6 360.63 L497.7 359.62 L497.7 358.60 L497.8 357.58 L497.9 356.56 L498.0 355.54 L498.1 354.53 L498.1 353.51 L498.2 352.49 L498.3 351.47 L498.4 350.45 L498.5 349.42 L498.7 348.40 L498.8 347.37 L498.9 346.34 L499.1 345.31 L499.3 344.28 L499.5 343.24 L499.7 342.20 L499.9 341.15 L500.1 340.11 L500.4 339.05 L500.7 337.99 L501.0 336.93 L501.4 335.86 L501.8 334.79 L502.2 333.71 L502.6 332.66 L503.1 331.71 L503.6 330.96 L504.2 330.48 L504.9 330.37 L505.6 330.66 L506.4 331.29 L507.1 332.14 L507.8 333.10 L508.3 334.08 L508.7 335.09 L508.9 336.11 L509.1 337.15 L509.3 338.20 L509.4 339.26 L509.4 340.32 L509.5 341.38 L509.5 342.43 L509.6 343.47 L509.6 344.51 L509.7 345.53 L509.8 346.56 L509.9 347.57 L510.0 348.59 L510.1 349.59 L510.2 350.60 L510.3 351.61 L510.4 352.61 L510.6 353.61 L510.7 354.62 L510.8 355.62 L510.9 356.63 L511.0 357.64 L511.1 358.65 L511.3 359.66 L511.4 360.67 L511.5 361.69 L511.6 362.71 L511.7 363.72 L511.8 364.74 L511.9 365.76 L512.0 366.78 L512.1 367.80 L512.3 368.82 L512.4 369.85 L512.5 370.87 L512.6 371.89 L512.7 372.92 L512.8 373.94 L512.9 374.97 L513.1 375.99 L513.2 377.02 L513.3 378.04 L513.4 379.07 L513.5 380.09 L513.7 381.11 L513.8 382.14 L513.9 383.16 L514.1 384.18 L514.2 385.21 L514.3 386.23 L514.5 387.25 L514.6 388.27 L514.8 389.29 L514.9 390.30 L515.1 391.32 L515.2 392.34 L515.4 393.35 L515.6 394.36 L515.7 395.37 L515.9 396.38 L516.1 397.39 L516.3 398.40 L516.4 399.40 L516.6 400.40 L516.8 401.40 L517.0 402.40 L517.2 403.40 L517.5 404.39 L517.7 405.39 L517.9 406.38 L518.1 407.37 L518.3 408.36 L518.6 409.35 L518.8 410.34 L519.0 411.34 L519.3 412.33 L519.5 413.32 L519.7 414.31 L520.0 415.30 L520.2 416.30 L520.5 417.29 L520.7 418.29 L521.0 419.28 L521.3 420.28 L521.5 421.28 L521.8 422.28 L522.0 423.29 L522.3 424.30 L522.5 425.31 L522.8 426.32 L523.1 427.33 L523.3 428.35 L523.6 429.37 L524.0 430.37 L524.4 431.34 L524.9 432.28 L525.6 433.17 L526.3 433.89 L527.2 434.33 L528.0 434.37 L528.9 434.04 L529.7 433.45 L530.5 432.71 L531.1 431.90 L531.7 431.05 L532.2 430.16 L532.7 429.23 L533.1 428.28 L533.5 427.31 L533.8 426.32 L534.2 425.33 L534.5 424.35 L534.8 423.36 L535.2 422.37 L535.5 421.39 L535.9 420.41 L536.2 419.43 L536.6 418.45 L536.9 417.47 L537.3 416.49 L537.6 415.51 L538.0 414.54 L538.3 413.56 L538.7 412.59 L539.0 411.61 L539.4 410.64 L539.7 409.67 L540.0 408.69 L540.4 407.72 L540.7 406.75 L541.0 405.78 L541.4 404.80 L541.7 403.83 L542.0 402.86 L542.3 401.88 L542.7 400.91 L543.0 399.93 L543.3 398.96 L543.6 397.98 L543.9 397.01 L544.2 396.03 L544.5 395.06 L544.8 394.08 L545.1 393.11 L545.4 392.14 L545.7 391.17 L546.1 390.20 L546.4 389.23 L546.7 388.26 L547.0 387.30 L547.3 386.33 L547.6 385.37 L548.0 384.41 L548.3 383.45 L548.6 382.50 L549.0 381.55 L549.3 380.60 L549.7 379.65 L550.0 378.70 L550.4 377.76 L550.8 376.83 L551.2 375.89 L551.5 374.96 L551.9 374.03 L552.4 373.11 L552.8 372.19 L553.2 371.28 L553.7 370.37 L554.1 369.46 L554.6 368.56 L555.1 367.66 L555.5 366.77 L556.0 365.88 L556.6 365.00 L557.1 364.13 L557.6 363.26 L558.2 362.39 L558.8 361.53 L559.4 360.68 L560.0 359.83 L560.6 358.99 L561.2 358.16 L561.9 357.34 L562.6 356.52 L563.2 355.71 L563.9 354.91 L564.7 354.13 L565.4 353.35 L566.1 352.59 L566.9 351.84 L567.6 351.10 L568.4 350.38 L569.2 349.67 L570.0 348.97 L570.8 348.29 L571.6 347.63 L572.4 346.99 L573.2 346.36 L574.1 345.75 L574.9 345.16 L575.8 344.59 L576.6 344.04 L577.5 343.51 L578.4 343.01 L579.3 342.52 L580.1 342.06 L581.0 341.61 L581.9 341.19 L582.8 340.78 L583.7 340.39 L584.6 340.02 L585.6 339.67 L586.5 339.33 L587.4 339.01 L588.4 338.70 L589.3 338.40 L590.2 338.12 L591.2 337.85 L592.1 337.60 L593.1 337.35 L594.1 337.11 L595.0 336.89 L596.0 336.67 L597.0 336.46 L598.0 336.26 L599.0 336.07 L600.0 335.88 L601.0 335.70 L602.0 335.52 L603.0 335.35 L604.0 335.18 L605.1 335.01 L606.1 334.85 L607.1 334.68 L608.2 334.52 L609.2 334.37 L610.3 334.22 L611.3 334.07 L612.4 333.94 L613.4 333.81 L614.5 333.70 L615.6 333.59 L616.6 333.50 L617.7 333.43 L618.7 333.37 L619.8 333.32 L620.8 333.30 L621.8 333.29 L622.9 333.31 L623.9 333.35 L624.9 333.41 L625.9 333.49 L627.0 333.61 L628.0 333.75 L628.9 333.91 L629.9 334.11 L630.9 334.34 L631.9 334.60 L632.8 334.90 L633.7 335.23 L634.7 335.60 L635.6 336.00 L636.5 336.45 L637.4 336.93 L638.2 337.46 L639.1 338.02 L639.9 338.64 L640.7 339.30 L641.5 340.00 L642.3 340.75 L643.1 341.54 L643.8 342.31 L644.6 343.03 L645.4 343.67 L646.2 344.17 L647.1 344.51 L648.0 344.63 L649.0 344.54 L649.9 344.25 L650.9 343.80 L651.8 343.21 L652.6 342.52 L653.3 341.74 L653.9 340.90 L654.4 340.00 L654.9 339.05 L655.3 338.07 L655.6 337.06 L656.0 336.04 L656.3 335.02 L656.6 334.01 L657.0 333.01 L657.3 332.03 L657.7 331.06 L658.0 330.10 L658.4 329.15 L658.8 328.21 L659.2 327.28 L659.5 326.35 L659.9 325.42 L660.2 324.50 L660.6 323.57 L660.9 322.64 L661.2 321.70 L661.6 320.73 L661.9 319.73 L662.3 318.68 L662.6 317.58 L663.0 316.41 L663.4 315.20 L663.9 314.08 L664.4 313.17 L665.0 312.60 L665.6 312.49 L666.3 312.89 L667.0 313.58 L667.6 314.36 L668.2 315.17 L668.7 316.01 L669.1 316.89 L669.5 317.79 L669.8 318.71 L670.0 319.66 L670.3 320.63 L670.4 321.62 L670.5 322.63 L670.6 323.66 L670.7 324.69 L670.7 325.74 L670.7 326.80 L670.7 327.87 L670.7 328.95 L670.7 330.03 L670.6 331.11 L670.6 332.19 L670.5 333.28 L670.5 334.36 L670.5 335.43 L670.4 336.50 L670.4 337.57 L670.4 338.63 L670.4 339.69 L670.5 340.75 L670.5 341.80 L670.5 342.85 L670.6 343.90 L670.6 344.94 L670.7 345.98 L670.7 347.01 L670.8 348.05 L670.8 349.08 L670.9 350.10 L671.0 351.13 L671.1 352.15 L671.2 353.17 L671.3 354.19 L671.4 355.21 L671.5 356.23 L671.6 357.24 L671.7 358.25 L671.8 359.27 L671.9 360.28 L672.0 361.29 L672.1 362.30 L672.3 363.30 L672.4 364.31 L672.5 365.32 L672.6 366.32 L672.7 367.33 L672.9 368.34 L673.0 369.34 L673.1 370.35 L673.2 371.36 L673.3 372.37 L673.5 373.37 L673.6 374.38 L673.7 375.39 L673.8 376.41 L673.9 377.42 L674.0 378.43 L674.1 379.45 L674.2 380.46 L674.3 381.48 L674.4 382.49 L674.5 383.51 L674.6 384.53 L674.7 385.55 L674.8 386.57 L674.8 387.59 L674.9 388.61 L675.0 389.63 L675.1 390.65 L675.2 391.67 L675.3 392.69 L675.4 393.72 L675.5 394.74 L675.6 395.76 L675.7 396.78 L675.8 397.81 L675.9 398.83 L676.0 399.85 L676.1 400.87 L676.2 401.90 L676.3 402.92 L676.4 403.94 L676.5 404.96 L676.6 405.98 L676.8 407.00 L676.9 408.02 L677.0 409.04 L677.2 410.06 L677.3 411.08 L677.4 412.09 L677.6 413.11 L677.7 414.12 L677.9 415.14 L678.1 416.15 L678.2 417.17 L678.4 418.18 L678.6 419.19 L678.8 420.20 L679.0 421.21 L679.2 422.21 L679.4 423.22 L679.6 424.22 L679.8 425.23 L680.1 426.23 L680.3 427.23 L680.6 428.23 L680.8 429.22 L681.1 430.22 L681.3 431.21 L681.6 432.20 L681.9 433.19 L682.2 434.18 L682.5 435.17 L682.8 436.15 L683.2 437.13 L683.5 438.11 L683.9 439.09 L684.2 440.06 L684.6 441.02 L685.0 441.98 L685.4 442.94 L685.8 443.89 L686.2 444.83 L686.6 445.76 L687.1 446.69 L687.6 447.61 L688.0 448.52 L688.5 449.42 L689.0 450.31 L689.5 451.19 L690.1 452.06 L690.6 452.92 L691.2 453.76 L691.8 454.60 L692.4 455.42 L693.0 456.22 L693.6 457.02 L694.3 457.79 L694.9 458.56 L695.6 459.31 L696.3 460.04 L697.0 460.75 L697.8 461.46 L698.5 462.14 L699.3 462.81 L700.1 463.47 L700.9 464.11 L701.7 464.74 L702.5 465.35 L703.3 465.95 L704.2 466.54 L705.0 467.11 L705.9 467.67 L706.8 468.22 L707.7 468.75 L708.6 469.27 L709.5 469.78 L710.4 470.27 L711.3 470.76 L712.2 471.23 L713.2 471.68 L714.1 472.13 L715.0 472.57 L716.0 472.99 L716.9 473.40 L717.9 473.80 L718.8 474.19 L719.8 474.57 L720.8 474.94 L721.7 475.29 L722.7 475.64 L723.7 475.97 L724.6 476.30 L725.6 476.61 L726.6 476.91 L727.6 477.20 L728.5 477.48 L729.5 477.75 L730.5 478.01 L731.5 478.26 L732.5 478.49 L733.5 478.72 L734.5 478.94 L735.5 479.14 L736.5 479.34 L737.5 479.52 L738.5 479.70 L739.5 479.86 L740.5 480.01 L741.6 480.16 L742.6 480.29 L743.6 480.41 L744.6 480.52 L745.6 480.63 L746.6 480.72 L747.7 480.80 L748.7 480.87 L749.7 480.93 L750.7 480.99 L751.8 481.03 L752.8 481.06 L753.8 481.08 L754.8 481.09 L755.9 481.10 L756.9 481.10 L757.9 481.10 L759.0 481.10 L760.0 481.10 L760.00 481.10 Z"/><clipPath id="c8"><use href="#p8"/></clipPath><linearGradient id="g6" gradientUnits="userSpaceOnUse" x1="426.50" y1="0" x2="769.00" y2="0"><stop offset="0.0000" stop-color="#000040"/><stop offset="0.1163" stop-color="#000060"/><stop offset="0.1860" stop-color="#0000c0"/><stop offset="0.2279" stop-color="#0010ff"/><stop offset="0.2419" stop-color="#0040ff"/><stop offset="0.2558" stop-color="#0080ff"/><stop offset="0.2698" stop-color="#00b0ff"/><stop offset="0.2837" stop-color="#00e0ff"/><stop offset="0.2953" stop-color="#00ffff"/><stop offset="0.3256" stop-color="#00ff80"/><stop offset="0.3651" stop-color="#00ff00"/><stop offset="0.4000" stop-color="#30ff00"/><stop offset="0.4302" stop-color="#70ff00"/><stop offset="0.4605" stop-color="#c0ff00"/><stop offset="0.4884" stop-color="#ffff00"/><stop offset="0.5116" stop-color="#ffc000"/><stop offset="0.5395" stop-color="#ff8000"/><stop offset="0.5651" stop-color="#ff4000"/><stop offset="0.5907" stop-color="#ff0000"/><stop offset="0.6512" stop-color="#e00000"/><stop offset="0.6860" stop-color="#c00000"/><stop offset="0.7140" stop-color="#900000"/><stop offset="0.7558" stop-color="#600000"/><stop offset="0.8000" stop-color="#300000"/><stop offset="1.0000" stop-color="#100000"/></linearGradient><path id="p9" d="M458.00 754.30 L458.0 754.30 L458.9 754.30 L459.8 754.30 L460.7 754.30 L461.6 754.30 L462.6 754.30 L463.5 754.30 L464.5 754.30 L465.5 754.30 L466.5 754.30 L467.6 754.24 L468.6 754.15 L469.6 754.03 L470.6 753.88 L471.6 753.71 L472.6 753.51 L473.6 753.29 L474.6 753.03 L475.6 752.75 L476.5 752.43 L477.4 752.08 L478.3 751.69 L479.2 751.27 L480.0 750.81 L480.8 750.31 L481.6 749.77 L482.3 749.19 L483.0 748.58 L483.7 747.92 L484.3 747.24 L484.9 746.52 L485.5 745.77 L486.0 744.99 L486.5 744.18 L487.0 743.35 L487.5 742.50 L487.9 741.62 L488.3 740.73 L488.7 739.82 L489.0 738.89 L489.3 737.95 L489.6 736.99 L489.9 736.03 L490.2 735.06 L490.5 734.08 L490.7 733.09 L490.9 732.11 L491.1 731.12 L491.3 730.14 L491.5 729.15 L491.7 728.17 L491.9 727.19 L492.0 726.22 L492.2 725.25 L492.3 724.28 L492.4 723.31 L492.6 722.34 L492.7 721.38 L492.8 720.41 L492.9 719.45 L493.0 718.49 L493.1 717.53 L493.1 716.57 L493.2 715.61 L493.3 714.65 L493.4 713.69 L493.5 712.73 L493.5 711.77 L493.6 710.81 L493.7 709.85 L493.8 708.89 L493.8 707.93 L493.9 706.97 L494.0 706.00 L494.1 705.04 L494.1 704.07 L494.2 703.10 L494.3 702.14 L494.4 701.17 L494.4 700.20 L494.5 699.23 L494.6 698.26 L494.7 697.29 L494.7 696.32 L494.8 695.35 L494.9 694.38 L495.0 693.41 L495.1 692.44 L495.1 691.46 L495.2 690.49 L495.3 689.52 L495.4 688.54 L495.5 687.57 L495.5 686.60 L495.6 685.62 L495.7 684.65 L495.8 683.67 L495.8 682.70 L495.9 681.73 L496.0 680.75 L496.1 679.78 L496.2 678.80 L496.2 677.83 L496.3 676.86 L496.4 675.88 L496.5 674.91 L496.6 673.94 L496.6 672.96 L496.7 671.99 L496.8 671.02 L496.9 670.05 L496.9 669.08 L497.0 668.11 L497.1 667.14 L497.2 666.17 L497.3 665.20 L497.3 664.23 L497.4 663.26 L497.5 662.29 L497.6 661.32 L497.6 660.36 L497.7 659.39 L497.8 658.43 L497.9 657.46 L497.9 656.50 L498.0 655.54 L498.1 654.58 L498.2 653.61 L498.2 652.65 L498.3 651.69 L498.4 650.73 L498.5 649.77 L498.5 648.81 L498.6 647.85 L498.7 646.89 L498.8 645.93 L498.8 644.97 L498.9 644.01 L499.0 643.05 L499.0 642.09 L499.1 641.13 L499.2 640.17 L499.3 639.21 L499.3 638.25 L499.4 637.29 L499.5 636.32 L499.5 635.36 L499.6 634.40 L499.7 633.44 L499.8 632.47 L499.8 631.51 L499.9 630.54 L500.0 629.58 L500.0 628.61 L500.1 627.64 L500.2 626.67 L500.3 625.70 L500.3 624.73 L500.4 623.76 L500.5 622.79 L500.6 621.82 L500.6 620.84 L500.7 619.86 L500.8 618.89 L500.8 617.91 L500.9 616.93 L501.0 615.95 L501.1 614.96 L501.1 613.98 L501.2 612.99 L501.3 612.00 L501.4 611.01 L501.4 610.02 L501.5 609.03 L501.6 608.04 L501.7 607.04 L501.7 606.04 L501.8 605.04 L501.9 604.04 L502.0 603.03 L502.0 602.03 L502.1 601.02 L502.2 600.01 L502.3 599.01 L502.3 598.00 L502.4 597.00 L502.5 595.99 L502.6 594.99 L502.6 593.99 L502.7 592.99 L502.8 591.99 L502.9 591.00 L503.0 590.01 L503.0 589.02 L503.1 588.04 L503.2 587.07 L503.3 586.09 L503.3 585.13 L503.4 584.17 L503.5 583.22 L503.6 582.27 L503.7 581.33 L503.7 580.40 L503.8 579.47 L503.9 578.55 L504.0 577.65 L504.0 576.75 L504.1 575.86 L504.2 574.98 L504.3 574.11 L504.4 573.24 L504.4 572.38 L504.5 571.51 L504.6 570.63 L504.7 569.73 L504.7 568.81 L504.8 567.87 L504.9 566.89 L505.0 565.88 L505.1 564.83 L505.2 563.73 L505.3 562.58 L505.4 561.37 L505.5 560.10 L505.6 558.80 L505.7 557.50 L505.8 556.27 L505.9 555.14 L506.0 554.16 L506.1 553.37 L506.2 552.83 L506.3 552.58 L506.4 552.66 L506.5 553.04 L506.6 553.69 L506.7 554.55 L506.8 555.59 L507.0 556.76 L507.1 558.00 L507.2 559.29 L507.3 560.57 L507.4 561.81 L507.5 563.00 L507.7 564.15 L507.8 565.26 L507.9 566.34 L508.0 567.38 L508.2 568.40 L508.3 569.39 L508.4 570.36 L508.6 571.32 L508.7 572.26 L508.8 573.19 L508.9 574.11 L509.1 575.03 L509.2 575.95 L509.3 576.87 L509.4 577.80 L509.5 578.73 L509.6 579.65 L509.8 580.58 L509.9 581.52 L510.0 582.45 L510.1 583.39 L510.2 584.32 L510.3 585.26 L510.4 586.20 L510.5 587.15 L510.6 588.09 L510.6 589.04 L510.7 589.98 L510.8 590.93 L510.9 591.88 L511.0 592.84 L511.1 593.79 L511.2 594.74 L511.2 595.70 L511.3 596.66 L511.4 597.62 L511.5 598.58 L511.5 599.54 L511.6 600.50 L511.7 601.46 L511.8 602.43 L511.8 603.39 L511.9 604.36 L512.0 605.33 L512.0 606.30 L512.1 607.27 L512.2 608.24 L512.2 609.21 L512.3 610.18 L512.4 611.16 L512.4 612.13 L512.5 613.10 L512.5 614.08 L512.6 615.06 L512.7 616.03 L512.7 617.01 L512.8 617.99 L512.8 618.97 L512.9 619.95 L512.9 620.93 L513.0 621.91 L513.1 622.89 L513.1 623.87 L513.2 624.85 L513.2 625.83 L513.3 626.81 L513.3 627.79 L513.4 628.77 L513.4 629.76 L513.5 630.74 L513.5 631.72 L513.6 632.70 L513.7 633.69 L513.7 634.67 L513.8 635.65 L513.8 636.64 L513.9 637.62 L513.9 638.60 L514.0 639.58 L514.0 640.56 L514.1 641.55 L514.2 642.53 L514.2 643.51 L514.3 644.49 L514.3 645.47 L514.4 646.45 L514.5 647.43 L514.5 648.41 L514.6 649.39 L514.7 650.36 L514.7 651.34 L514.8 652.32 L514.9 653.30 L514.9 654.27 L515.0 655.25 L515.1 656.22 L515.1 657.19 L515.2 658.17 L515.3 659.14 L515.4 660.11 L515.4 661.08 L515.5 662.05 L515.6 663.01 L515.7 663.98 L515.8 664.95 L515.8 665.91 L515.9 666.88 L516.0 667.84 L516.1 668.81 L516.2 669.77 L516.3 670.73 L516.4 671.69 L516.5 672.66 L516.6 673.62 L516.7 674.58 L516.8 675.54 L516.9 676.50 L517.0 677.45 L517.1 678.41 L517.2 679.37 L517.4 680.33 L517.5 681.29 L517.6 682.24 L517.7 683.20 L517.9 684.16 L518.0 685.11 L518.1 686.07 L518.3 687.03 L518.4 687.98 L518.6 688.94 L518.7 689.89 L518.9 690.85 L519.0 691.81 L519.2 692.76 L519.4 693.72 L519.5 694.67 L519.7 695.63 L519.9 696.58 L520.1 697.54 L520.2 698.50 L520.4 699.45 L520.6 700.41 L520.8 701.36 L521.0 702.32 L521.2 703.27 L521.4 704.23 L521.6 705.19 L521.8 706.14 L522.0 707.10 L522.2 708.06 L522.4 709.01 L522.6 709.97 L522.8 710.93 L523.0 711.89 L523.2 712.84 L523.4 713.80 L523.7 714.76 L523.9 715.72 L524.1 716.68 L524.3 717.64 L524.6 718.60 L524.8 719.56 L525.0 720.52 L525.3 721.48 L525.5 722.44 L525.7 723.40 L526.0 724.36 L526.2 725.32 L526.5 726.28 L526.7 727.23 L527.0 728.18 L527.3 729.12 L527.6 730.05 L528.0 730.96 L528.3 731.87 L528.7 732.76 L529.1 733.64 L529.6 734.50 L530.1 735.34 L530.6 736.15 L531.2 736.95 L531.8 737.72 L532.4 738.45 L533.1 739.15 L533.8 739.80 L534.6 740.41 L535.4 740.97 L536.2 741.47 L537.0 741.91 L537.9 742.28 L538.7 742.59 L539.6 742.84 L540.6 743.04 L541.5 743.18 L542.5 743.27 L543.4 743.31 L544.4 743.32 L545.4 743.29 L546.4 743.23 L547.4 743.14 L548.4 743.02 L549.5 742.89 L550.5 742.74 L551.5 742.58 L552.5 742.42 L553.5 742.25 L554.5 742.08 L555.5 741.90 L556.5 741.73 L557.5 741.56 L558.5 741.38 L559.5 741.21 L560.4 741.03 L561.4 740.85 L562.4 740.67 L563.3 740.49 L564.3 740.31 L565.3 740.12 L566.2 739.94 L567.2 739.75 L568.1 739.56 L569.0 739.37 L570.0 739.18 L570.9 738.99 L571.9 738.79 L572.8 738.60 L573.7 738.40 L574.7 738.20 L575.6 738.00 L576.5 737.79 L577.4 737.59 L578.4 737.38 L579.3 737.17 L580.2 736.96 L581.1 736.74 L582.1 736.53 L583.0 736.31 L583.9 736.09 L584.8 735.86 L585.8 735.64 L586.7 735.41 L587.6 735.18 L588.6 734.95 L589.5 734.71 L590.4 734.47 L591.4 734.23 L592.3 733.99 L593.2 733.74 L594.2 733.49 L595.1 733.24 L596.1 732.99 L597.0 732.73 L598.0 732.47 L598.9 732.21 L599.9 731.94 L600.9 731.67 L601.8 731.40 L602.8 731.12 L603.8 730.84 L604.7 730.55 L605.7 730.25 L606.7 729.94 L607.6 729.63 L608.6 729.30 L609.5 728.96 L610.5 728.61 L611.4 728.25 L612.3 727.87 L613.2 727.48 L614.1 727.07 L615.0 726.64 L615.9 726.20 L616.7 725.74 L617.6 725.25 L618.4 724.75 L619.2 724.23 L620.0 723.68 L620.7 723.11 L621.4 722.52 L622.1 721.90 L622.8 721.25 L623.5 720.58 L624.1 719.89 L624.7 719.17 L625.3 718.42 L625.8 717.66 L626.3 716.87 L626.9 716.07 L627.3 715.25 L627.8 714.41 L628.2 713.55 L628.7 712.68 L629.1 711.80 L629.5 710.90 L629.8 710.00 L630.2 709.08 L630.5 708.16 L630.8 707.22 L631.1 706.28 L631.4 705.34 L631.7 704.39 L632.0 703.44 L632.2 702.49 L632.5 701.53 L632.7 700.58 L632.9 699.62 L633.2 698.65 L633.4 697.66 L633.7 696.66 L634.0 695.64 L634.3 694.59 L634.7 693.51 L635.1 692.42 L635.6 691.38 L636.1 690.47 L636.6 689.76 L637.1 689.31 L637.6 689.21 L638.1 689.47 L638.5 690.05 L639.0 690.87 L639.4 691.83 L639.8 692.86 L640.2 693.90 L640.5 694.93 L640.8 695.95 L641.0 696.97 L641.2 697.99 L641.4 698.99 L641.5 700.00 L641.7 700.99 L641.8 701.98 L641.9 702.97 L642.0 703.95 L642.1 704.93 L642.2 705.90 L642.3 706.87 L642.4 707.84 L642.5 708.80 L642.5 709.76 L642.6 710.72 L642.7 711.68 L642.8 712.63 L643.0 713.59 L643.1 714.55 L643.2 715.50 L643.4 716.46 L643.6 717.42 L643.8 718.38 L644.0 719.34 L644.2 720.29 L644.4 721.25 L644.7 722.20 L645.0 723.15 L645.3 724.09 L645.6 725.02 L645.9 725.95 L646.3 726.87 L646.7 727.78 L647.1 728.68 L647.5 729.57 L647.9 730.44 L648.4 731.31 L648.9 732.16 L649.3 732.99 L649.9 733.82 L650.4 734.62 L650.9 735.41 L651.5 736.17 L652.1 736.92 L652.7 737.65 L653.3 738.36 L654.0 739.04 L654.7 739.71 L655.4 740.34 L656.1 740.96 L656.8 741.54 L657.6 742.10 L658.4 742.64 L659.2 743.14 L660.0 743.62 L660.8 744.08 L661.7 744.50 L662.6 744.91 L663.4 745.30 L664.3 745.66 L665.3 746.00 L666.2 746.33 L667.1 746.63 L668.1 746.93 L669.1 747.20 L670.0 747.46 L671.0 747.71 L672.0 747.94 L673.0 748.17 L674.0 748.38 L675.0 748.59 L676.0 748.79 L677.0 748.98 L678.0 749.16 L679.0 749.34 L679.9 749.52 L680.9 749.70 L681.9 749.87 L682.9 750.04 L683.9 750.22 L684.9 750.40 L685.8 750.58 L686.8 750.76 L687.7 750.94 L688.7 751.13 L689.6 751.32 L690.5 751.50 L691.4 751.69 L692.4 751.87 L693.3 752.05 L694.2 752.22 L695.1 752.38 L696.1 752.55 L697.0 752.70 L697.9 752.84 L698.9 752.97 L699.8 753.10 L700.7 753.21 L701.7 753.31 L702.7 753.40 L703.6 753.48 L704.6 753.55 L705.6 753.61 L706.6 753.66 L707.6 753.71 L708.5 753.75 L709.5 753.78 L710.5 753.81 L711.5 753.83 L712.5 753.85 L713.5 753.86 L714.5 753.87 L715.5 753.88 L716.5 753.89 L717.5 753.89 L718.5 753.90 L719.5 753.90 L720.5 753.91 L721.5 753.91 L722.5 753.92 L723.5 753.93 L724.4 753.94 L725.4 753.96 L726.4 753.98 L727.4 754.01 L728.3 754.04 L729.3 754.08 L730.2 754.12 L731.1 754.17 L732.1 754.23 L733.0 754.30 L733.00 754.30 Z"/><clipPath id="c9"><use href="#p9"/></clipPath></defs><rect width="800" height="800" fill="#fff"/><use href="#p1" fill="url(#g1)"/><use href="#p1" fill="none" stroke="#000" stroke-opacity="0.28" stroke-width="1.50" clip-path="url(#c1)"/><use href="#p2" fill="url(#g1)"/><use href="#p2" fill="none" stroke="#000" stroke-opacity="0.28" stroke-width="1.50" clip-path="url(#c2)"/><text x="27.80" y="232.80" text-anchor="end" style='font-family:"Liberation Mono",monospace;font-weight:bold;font-size:8.3px;fill:#111'>0.0</text><line x1="28.70" y1="230.00" x2="31.20" y2="230.00" stroke="#111" stroke-width="1"/><text x="27.80" y="199.30" text-anchor="end" style='font-family:"Liberation Mono",monospace;font-weight:bold;font-size:8.3px;fill:#111'>0.2</text><line x1="28.70" y1="196.50" x2="31.20" y2="196.50" stroke="#111" stroke-width="1"/><text x="27.80" y="165.80" text-anchor="end" style='font-family:"Liberation Mono",monospace;font-weight:bold;font-size:8.3px;fill:#111'>0.4</text><line x1="28.70" y1="163.00" x2="31.20" y2="163.00" stroke="#111" stroke-width="1"/><text x="27.80" y="132.30" text-anchor="end" style='font-family:"Liberation Mono",monospace;font-weight:bold;font-size:8.3px;fill:#111'>0.6</text><line x1="28.70" y1="129.50" x2="31.20" y2="129.50" stroke="#111" stroke-width="1"/><text x="27.80" y="98.80" text-anchor="end" style='font-family:"Liberation Mono",monospace;font-weight:bold;font-size:8.3px;fill:#111'>0.8</text><line x1="28.70" y1="96.00" x2="31.20" y2="96.00" stroke="#111" stroke-width="1"/><text x="27.80" y="65.30" text-anchor="end" style='font-family:"Liberation Mono",monospace;font-weight:bold;font-size:8.3px;fill:#111'>1.0</text><line x1="28.70" y1="62.50" x2="31.20" y2="62.50" stroke="#111" stroke-width="1"/><text x="27.80" y="31.80" text-anchor="end" style='font-family:"Liberation Mono",monospace;font-weight:bold;font-size:8.3px;fill:#111'>1.2</text><line x1="28.70" y1="29.00" x2="31.20" y2="29.00" stroke="#111" stroke-width="1"/><line x1="31.20" y1="29.00" x2="31.20" y2="230.00" stroke="#111" stroke-width="1.60"/><line x1="30.40" y1="230.00" x2="394.00" y2="230.00" stroke="#111" stroke-width="1.60"/><text x="31.00" y="238.80" text-anchor="middle" style='font-family:"Liberation Mono",monospace;font-weight:bold;font-size:8.3px;fill:#111'>380</text><line x1="31.00" y1="230.00" x2="31.00" y2="232.00" stroke="#111" stroke-width="1"/><text x="121.00" y="238.80" text-anchor="middle" style='font-family:"Liberation Mono",monospace;font-weight:bold;font-size:8.3px;fill:#111'>480</text><line x1="121.00" y1="230.00" x2="121.00" y2="232.00" stroke="#111" stroke-width="1"/><text x="211.50" y="238.80" text-anchor="middle" style='font-family:"Liberation Mono",monospace;font-weight:bold;font-size:8.3px;fill:#111'>580</text><line x1="211.50" y1="230.00" x2="211.50" y2="232.00" stroke="#111" stroke-width="1"/><text x="302.30" y="238.80" text-anchor="middle" style='font-family:"Liberation Mono",monospace;font-weight:bold;font-size:8.3px;fill:#111'>680</text><line x1="302.30" y1="230.00" x2="302.30" y2="232.00" stroke="#111" stroke-width="1"/><text x="393.40" y="238.80" text-anchor="middle" style='font-family:"Liberation Mono",monospace;font-weight:bold;font-size:8.3px;fill:#111'>780</text><line x1="393.40" y1="230.00" x2="393.40" y2="232.00" stroke="#111" stroke-width="1"/><use href="#p3" fill="url(#g3)"/><use href="#p3" fill="none" stroke="#000" stroke-opacity="0.28" stroke-width="1.50" clip-path="url(#c3)"/><use href="#p4" fill="url(#g3)"/><use href="#p4" fill="none" stroke="#000" stroke-opacity="0.28" stroke-width="1.50" clip-path="url(#c4)"/><text x="27.00" y="483.30" text-anchor="end" style='font-family:"Liberation Mono",monospace;font-weight:bold;font-size:8.3px;fill:#111'>0.0</text><line x1="28.50" y1="480.50" x2="31.00" y2="480.50" stroke="#111" stroke-width="1"/><text x="27.00" y="450.05" text-anchor="end" style='font-family:"Liberation Mono",monospace;font-weight:bold;font-size:8.3px;fill:#111'>0.2</text><line x1="28.50" y1="447.25" x2="31.00" y2="447.25" stroke="#111" stroke-width="1"/><text x="27.00" y="416.80" text-anchor="end" style='font-family:"Liberation Mono",monospace;font-weight:bold;font-size:8.3px;fill:#111'>0.4</text><line x1="28.50" y1="414.00" x2="31.00" y2="414.00" stroke="#111" stroke-width="1"/><text x="27.00" y="383.55" text-anchor="end" style='font-family:"Liberation Mono",monospace;font-weight:bold;font-size:8.3px;fill:#111'>0.6</text><line x1="28.50" y1="380.75" x2="31.00" y2="380.75" stroke="#111" stroke-width="1"/><text x="27.00" y="350.30" text-anchor="end" style='font-family:"Liberation Mono",monospace;font-weight:bold;font-size:8.3px;fill:#111'>0.8</text><line x1="28.50" y1="347.50" x2="31.00" y2="347.50" stroke="#111" stroke-width="1"/><text x="27.00" y="317.05" text-anchor="end" style='font-family:"Liberation Mono",monospace;font-weight:bold;font-size:8.3px;fill:#111'>1.0</text><line x1="28.50" y1="314.25" x2="31.00" y2="314.25" stroke="#111" stroke-width="1"/><text x="27.00" y="283.80" text-anchor="end" style='font-family:"Liberation Mono",monospace;font-weight:bold;font-size:8.3px;fill:#111'>1.2</text><line x1="28.50" y1="281.00" x2="31.00" y2="281.00" stroke="#111" stroke-width="1"/><line x1="31.00" y1="281.00" x2="31.00" y2="480.50" stroke="#111" stroke-width="1.60"/><line x1="30.20" y1="480.50" x2="391.00" y2="480.50" stroke="#111" stroke-width="1.60"/><text x="31.50" y="489.30" text-anchor="middle" style='font-family:"Liberation Mono",monospace;font-weight:bold;font-size:8.3px;fill:#111'>380</text><line x1="31.50" y1="480.50" x2="31.50" y2="482.50" stroke="#111" stroke-width="1"/><text x="121.00" y="489.30" text-anchor="middle" style='font-family:"Liberation Mono",monospace;font-weight:bold;font-size:8.3px;fill:#111'>480</text><line x1="121.00" y1="480.50" x2="121.00" y2="482.50" stroke="#111" stroke-width="1"/><text x="210.50" y="489.30" text-anchor="middle" style='font-family:"Liberation Mono",monospace;font-weight:bold;font-size:8.3px;fill:#111'>580</text><line x1="210.50" y1="480.50" x2="210.50" y2="482.50" stroke="#111" stroke-width="1"/><text x="300.00" y="489.30" text-anchor="middle" style='font-family:"Liberation Mono",monospace;font-weight:bold;font-size:8.3px;fill:#111'>680</text><line x1="300.00" y1="480.50" x2="300.00" y2="482.50" stroke="#111" stroke-width="1"/><text x="390.00" y="489.30" text-anchor="middle" style='font-family:"Liberation Mono",monospace;font-weight:bold;font-size:8.3px;fill:#111'>780</text><line x1="390.00" y1="480.50" x2="390.00" y2="482.50" stroke="#111" stroke-width="1"/><use href="#p5" fill="url(#g5)"/><use href="#p5" fill="none" stroke="#000" stroke-opacity="0.28" stroke-width="1.50" clip-path="url(#c5)"/><use href="#p6" fill="url(#g5)"/><use href="#p6" fill="none" stroke="#000" stroke-opacity="0.28" stroke-width="1.50" clip-path="url(#c6)"/><text x="29.00" y="757.80" text-anchor="end" style='font-family:"Liberation Mono",monospace;font-weight:bold;font-size:8.3px;fill:#111'>0.0</text><line x1="30.90" y1="755.00" x2="33.40" y2="755.00" stroke="#111" stroke-width="1"/><text x="29.00" y="724.35" text-anchor="end" style='font-family:"Liberation Mono",monospace;font-weight:bold;font-size:8.3px;fill:#111'>0.2</text><line x1="30.90" y1="721.55" x2="33.40" y2="721.55" stroke="#111" stroke-width="1"/><text x="29.00" y="690.90" text-anchor="end" style='font-family:"Liberation Mono",monospace;font-weight:bold;font-size:8.3px;fill:#111'>0.4</text><line x1="30.90" y1="688.10" x2="33.40" y2="688.10" stroke="#111" stroke-width="1"/><text x="29.00" y="657.45" text-anchor="end" style='font-family:"Liberation Mono",monospace;font-weight:bold;font-size:8.3px;fill:#111'>0.6</text><line x1="30.90" y1="654.65" x2="33.40" y2="654.65" stroke="#111" stroke-width="1"/><text x="29.00" y="624.00" text-anchor="end" style='font-family:"Liberation Mono",monospace;font-weight:bold;font-size:8.3px;fill:#111'>0.8</text><line x1="30.90" y1="621.20" x2="33.40" y2="621.20" stroke="#111" stroke-width="1"/><text x="29.00" y="590.55" text-anchor="end" style='font-family:"Liberation Mono",monospace;font-weight:bold;font-size:8.3px;fill:#111'>1.0</text><line x1="30.90" y1="587.75" x2="33.40" y2="587.75" stroke="#111" stroke-width="1"/><text x="29.00" y="557.10" text-anchor="end" style='font-family:"Liberation Mono",monospace;font-weight:bold;font-size:8.3px;fill:#111'>1.2</text><line x1="30.90" y1="554.30" x2="33.40" y2="554.30" stroke="#111" stroke-width="1"/><line x1="33.40" y1="554.30" x2="33.40" y2="755.00" stroke="#111" stroke-width="1.60"/><line x1="32.60" y1="755.00" x2="395.00" y2="755.00" stroke="#111" stroke-width="1.60"/><text x="33.00" y="763.80" text-anchor="middle" style='font-family:"Liberation Mono",monospace;font-weight:bold;font-size:8.3px;fill:#111'>380</text><line x1="33.00" y1="755.00" x2="33.00" y2="757.00" stroke="#111" stroke-width="1"/><text x="122.60" y="763.80" text-anchor="middle" style='font-family:"Liberation Mono",monospace;font-weight:bold;font-size:8.3px;fill:#111'>480</text><line x1="122.60" y1="755.00" x2="122.60" y2="757.00" stroke="#111" stroke-width="1"/><text x="213.00" y="763.80" text-anchor="middle" style='font-family:"Liberation Mono",monospace;font-weight:bold;font-size:8.3px;fill:#111'>580</text><line x1="213.00" y1="755.00" x2="213.00" y2="757.00" stroke="#111" stroke-width="1"/><text x="303.40" y="763.80" text-anchor="middle" style='font-family:"Liberation Mono",monospace;font-weight:bold;font-size:8.3px;fill:#111'>680</text><line x1="303.40" y1="755.00" x2="303.40" y2="757.00" stroke="#111" stroke-width="1"/><text x="394.20" y="763.80" text-anchor="middle" style='font-family:"Liberation Mono",monospace;font-weight:bold;font-size:8.3px;fill:#111'>780</text><line x1="394.20" y1="755.00" x2="394.20" y2="757.00" stroke="#111" stroke-width="1"/><use href="#p7" fill="url(#g2)"/><use href="#p7" fill="none" stroke="#000" stroke-opacity="0.28" stroke-width="1.50" clip-path="url(#c7)"/><text x="419.80" y="232.80" text-anchor="end" style='font-family:"Liberation Mono",monospace;font-weight:bold;font-size:8.3px;fill:#111'>0.0</text><line x1="421.90" y1="230.00" x2="424.40" y2="230.00" stroke="#111" stroke-width="1"/><text x="419.80" y="200.55" text-anchor="end" style='font-family:"Liberation Mono",monospace;font-weight:bold;font-size:8.3px;fill:#111'>0.2</text><line x1="421.90" y1="197.75" x2="424.40" y2="197.75" stroke="#111" stroke-width="1"/><text x="419.80" y="168.30" text-anchor="end" style='font-family:"Liberation Mono",monospace;font-weight:bold;font-size:8.3px;fill:#111'>0.4</text><line x1="421.90" y1="165.50" x2="424.40" y2="165.50" stroke="#111" stroke-width="1"/><text x="419.80" y="136.05" text-anchor="end" style='font-family:"Liberation Mono",monospace;font-weight:bold;font-size:8.3px;fill:#111'>0.6</text><line x1="421.90" y1="133.25" x2="424.40" y2="133.25" stroke="#111" stroke-width="1"/><text x="419.80" y="103.80" text-anchor="end" style='font-family:"Liberation Mono",monospace;font-weight:bold;font-size:8.3px;fill:#111'>0.8</text><line x1="421.90" y1="101.00" x2="424.40" y2="101.00" stroke="#111" stroke-width="1"/><text x="419.80" y="71.55" text-anchor="end" style='font-family:"Liberation Mono",monospace;font-weight:bold;font-size:8.3px;fill:#111'>1.0</text><line x1="421.90" y1="68.75" x2="424.40" y2="68.75" stroke="#111" stroke-width="1"/><text x="419.80" y="39.30" text-anchor="end" style='font-family:"Liberation Mono",monospace;font-weight:bold;font-size:8.3px;fill:#111'>1.2</text><line x1="421.90" y1="36.50" x2="424.40" y2="36.50" stroke="#111" stroke-width="1"/><line x1="424.40" y1="36.50" x2="424.40" y2="230.00" stroke="#111" stroke-width="1.10"/><line x1="423.85" y1="230.00" x2="779.50" y2="230.00" stroke="#111" stroke-width="1.10"/><text x="424.40" y="239.60" text-anchor="middle" style='font-family:"Liberation Mono",monospace;font-weight:bold;font-size:8.3px;fill:#111'>380</text><line x1="424.40" y1="230.00" x2="424.40" y2="232.00" stroke="#111" stroke-width="1"/><text x="513.00" y="239.60" text-anchor="middle" style='font-family:"Liberation Mono",monospace;font-weight:bold;font-size:8.3px;fill:#111'>480</text><line x1="513.00" y1="230.00" x2="513.00" y2="232.00" stroke="#111" stroke-width="1"/><text x="601.60" y="239.60" text-anchor="middle" style='font-family:"Liberation Mono",monospace;font-weight:bold;font-size:8.3px;fill:#111'>580</text><line x1="601.60" y1="230.00" x2="601.60" y2="232.00" stroke="#111" stroke-width="1"/><text x="690.30" y="239.60" text-anchor="middle" style='font-family:"Liberation Mono",monospace;font-weight:bold;font-size:8.3px;fill:#111'>680</text><line x1="690.30" y1="230.00" x2="690.30" y2="232.00" stroke="#111" stroke-width="1"/><text x="779.00" y="239.60" text-anchor="middle" style='font-family:"Liberation Mono",monospace;font-weight:bold;font-size:8.3px;fill:#111'>780</text><line x1="779.00" y1="230.00" x2="779.00" y2="232.00" stroke="#111" stroke-width="1"/><use href="#p8" fill="url(#g4)"/><use href="#p8" fill="none" stroke="#000" stroke-opacity="0.28" stroke-width="1.50" clip-path="url(#c8)"/><text transform="translate(424.00 475.60) rotate(-90) scale(0.770 1)" text-anchor="middle" style='font-family:"Liberation Sans",sans-serif;font-size:10.00px;fill:#3a3a3a'>0.0000</text><text transform="translate(424.00 438.38) rotate(-90) scale(0.770 1)" text-anchor="middle" style='font-family:"Liberation Sans",sans-serif;font-size:10.00px;fill:#3a3a3a'>0.0648</text><text transform="translate(424.00 401.16) rotate(-90) scale(0.770 1)" text-anchor="middle" style='font-family:"Liberation Sans",sans-serif;font-size:10.00px;fill:#3a3a3a'>0.1297</text><text transform="translate(424.00 363.94) rotate(-90) scale(0.770 1)" text-anchor="middle" style='font-family:"Liberation Sans",sans-serif;font-size:10.00px;fill:#3a3a3a'>0.1945</text><text transform="translate(424.00 326.72) rotate(-90) scale(0.770 1)" text-anchor="middle" style='font-family:"Liberation Sans",sans-serif;font-size:10.00px;fill:#3a3a3a'>0.2594</text><text transform="translate(424.00 289.50) rotate(-90) scale(0.770 1)" text-anchor="middle" style='font-family:"Liberation Sans",sans-serif;font-size:10.00px;fill:#3a3a3a'>0.3242</text><line x1="425.30" y1="295.00" x2="425.30" y2="481.10" stroke="#8a8a8a" stroke-width="1.5"/><line x1="425.30" y1="481.10" x2="776.00" y2="481.10" stroke="#6a6a6a" stroke-width="1.10"/><text x="425.35" y="493.10" text-anchor="middle" style='font-family:"Liberation Sans",sans-serif;font-weight:bold;font-size:10.2px;letter-spacing:0.7px;fill:#111;stroke:#111;stroke-width:0.25px'>350</text><line x1="425.00" y1="481.10" x2="425.00" y2="483.60" stroke="#555" stroke-width="1"/><text x="513.35" y="493.10" text-anchor="middle" style='font-family:"Liberation Sans",sans-serif;font-weight:bold;font-size:10.2px;letter-spacing:0.7px;fill:#111;stroke:#111;stroke-width:0.25px'>458</text><line x1="513.00" y1="481.10" x2="513.00" y2="483.60" stroke="#555" stroke-width="1"/><text x="600.35" y="493.10" text-anchor="middle" style='font-family:"Liberation Sans",sans-serif;font-weight:bold;font-size:10.2px;letter-spacing:0.7px;fill:#111;stroke:#111;stroke-width:0.25px'>565</text><line x1="600.00" y1="481.10" x2="600.00" y2="483.60" stroke="#555" stroke-width="1"/><text x="687.35" y="493.10" text-anchor="middle" style='font-family:"Liberation Sans",sans-serif;font-weight:bold;font-size:10.2px;letter-spacing:0.7px;fill:#111;stroke:#111;stroke-width:0.25px'>673</text><line x1="687.00" y1="481.10" x2="687.00" y2="483.60" stroke="#555" stroke-width="1"/><text x="775.35" y="493.10" text-anchor="middle" style='font-family:"Liberation Sans",sans-serif;font-weight:bold;font-size:10.2px;letter-spacing:0.7px;fill:#111;stroke:#111;stroke-width:0.25px'>780</text><line x1="775.00" y1="481.10" x2="775.00" y2="483.60" stroke="#555" stroke-width="1"/><text x="501.9" y="303" style='font-family:"Liberation Sans",sans-serif;font-weight:bold;font-size:10.5px;letter-spacing:0.2px;fill:#111'>Absolute Spectrum</text><use href="#p9" fill="url(#g6)"/><use href="#p9" fill="none" stroke="#000" stroke-opacity="0.28" stroke-width="1.50" clip-path="url(#c9)"/><text transform="translate(423.80 747.30) rotate(-90) scale(1.000 1)" text-anchor="middle" style='font-family:"Liberation Sans",sans-serif;font-size:8.90px;fill:#3a3a3a'>0.0000</text><text transform="translate(423.80 703.24) rotate(-90) scale(1.000 1)" text-anchor="middle" style='font-family:"Liberation Sans",sans-serif;font-size:8.90px;fill:#3a3a3a'>0.0924</text><text transform="translate(423.80 659.18) rotate(-90) scale(1.000 1)" text-anchor="middle" style='font-family:"Liberation Sans",sans-serif;font-size:8.90px;fill:#3a3a3a'>0.1848</text><text transform="translate(423.80 615.12) rotate(-90) scale(1.000 1)" text-anchor="middle" style='font-family:"Liberation Sans",sans-serif;font-size:8.90px;fill:#3a3a3a'>0.2771</text><text transform="translate(423.80 571.06) rotate(-90) scale(1.000 1)" text-anchor="middle" style='font-family:"Liberation Sans",sans-serif;font-size:8.90px;fill:#3a3a3a'>0.3695</text><text transform="translate(423.80 527.00) rotate(-90) scale(1.000 1)" text-anchor="middle" style='font-family:"Liberation Sans",sans-serif;font-size:8.90px;fill:#3a3a3a'>0.4619</text><line x1="426.50" y1="534.00" x2="426.50" y2="754.30" stroke="#8a8a8a" stroke-width="1.5"/><line x1="426.50" y1="754.30" x2="768.00" y2="754.30" stroke="#444" stroke-width="1.10"/><text x="425.85" y="767.90" text-anchor="middle" style='font-family:"Liberation Sans",sans-serif;font-weight:bold;font-size:10.2px;letter-spacing:0.7px;fill:#111;stroke:#111;stroke-width:0.25px'>350</text><line x1="425.50" y1="754.30" x2="425.50" y2="756.80" stroke="#555" stroke-width="1"/><text x="511.85" y="767.90" text-anchor="middle" style='font-family:"Liberation Sans",sans-serif;font-weight:bold;font-size:10.2px;letter-spacing:0.7px;fill:#111;stroke:#111;stroke-width:0.25px'>458</text><line x1="511.50" y1="754.30" x2="511.50" y2="756.80" stroke="#555" stroke-width="1"/><text x="597.05" y="767.90" text-anchor="middle" style='font-family:"Liberation Sans",sans-serif;font-weight:bold;font-size:10.2px;letter-spacing:0.7px;fill:#111;stroke:#111;stroke-width:0.25px'>565</text><line x1="596.70" y1="754.30" x2="596.70" y2="756.80" stroke="#555" stroke-width="1"/><text x="682.85" y="767.90" text-anchor="middle" style='font-family:"Liberation Sans",sans-serif;font-weight:bold;font-size:10.2px;letter-spacing:0.7px;fill:#111;stroke:#111;stroke-width:0.25px'>673</text><line x1="682.50" y1="754.30" x2="682.50" y2="756.80" stroke="#555" stroke-width="1"/><text x="768.35" y="767.90" text-anchor="middle" style='font-family:"Liberation Sans",sans-serif;font-weight:bold;font-size:10.2px;letter-spacing:0.7px;fill:#111;stroke:#111;stroke-width:0.25px'>780</text><line x1="768.00" y1="754.30" x2="768.00" y2="756.80" stroke="#555" stroke-width="1"/><text x="501.3" y="542.2" style='font-family:"Liberation Sans",sans-serif;font-weight:bold;font-size:10.5px;fill:#111'>Absolute Spectrum</text></svg></body></html>
